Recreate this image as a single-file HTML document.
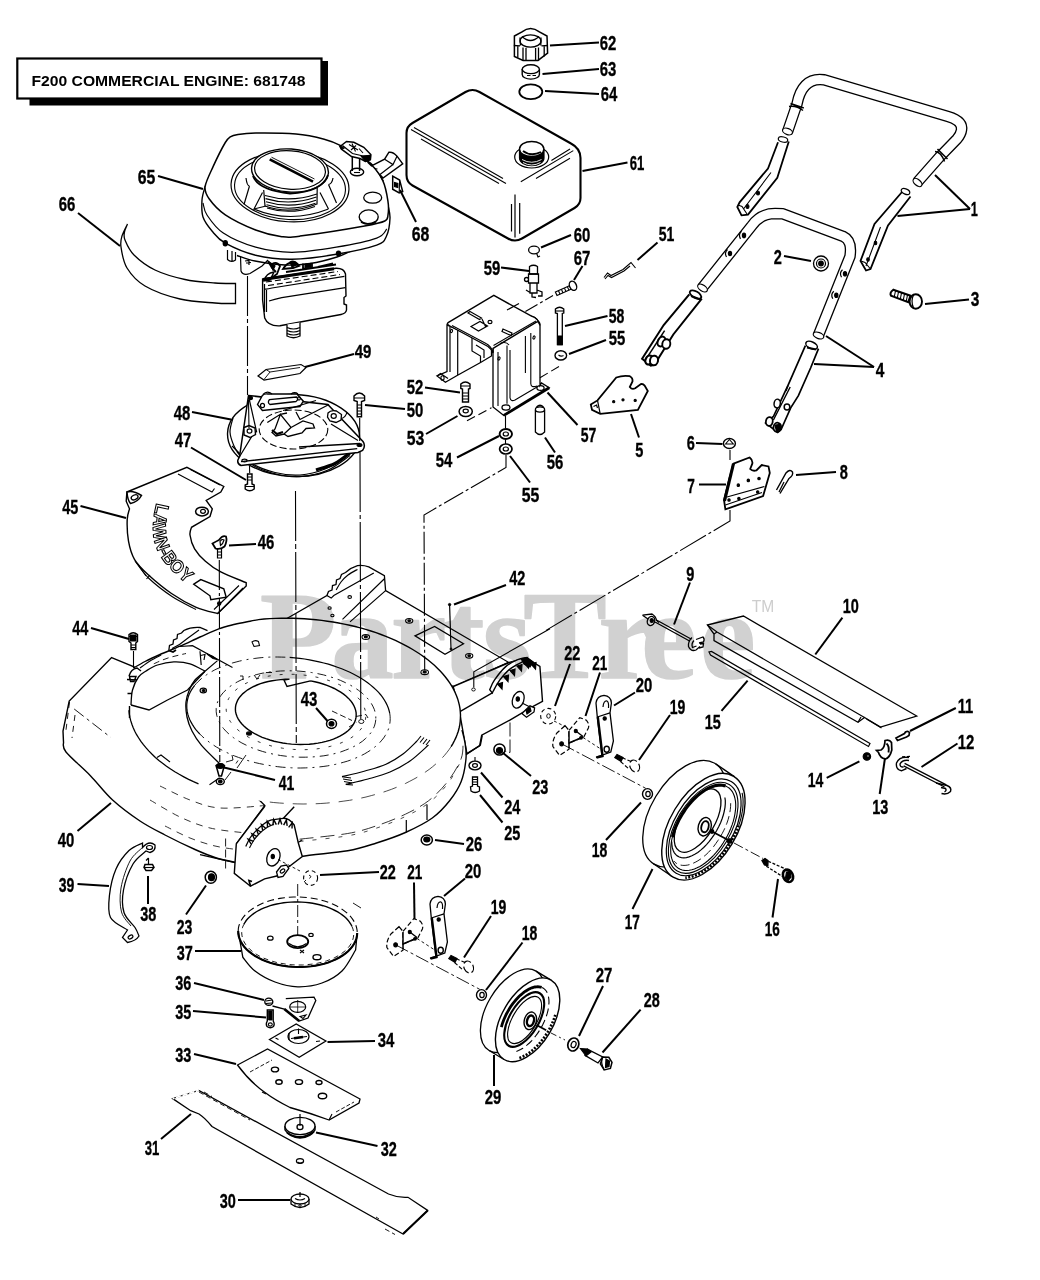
<!DOCTYPE html>
<html><head><meta charset="utf-8"><title>F200 Commercial Engine 681748 - Parts Diagram</title>
<style>html,body{margin:0;padding:0;background:#fff}svg{display:block}</style></head>
<body><svg width="1040" height="1280" viewBox="0 0 1040 1280">
<rect width="1040" height="1280" fill="#fff"/>
<rect x="29.5" y="61" width="298.5" height="44.5" fill="#000"/>
<rect x="17.3" y="58.5" width="304.2" height="40" fill="#fff" stroke="#000" stroke-width="2.2"/>
<text x="31.5" y="85.6" font-family="'Liberation Sans',sans-serif" font-weight="bold" font-size="15" textLength="274" lengthAdjust="spacingAndGlyphs">F200 COMMERCIAL ENGINE: 681748</text>
<g id="deck"><path d="M286,619 L326.9,595.6 L328.5,591.5 L332,590 L332.5,585.5 L336,584.5 L336.5,580 L340,578.5 L341.5,574.5 L345.5,572.5 Q351,567.5 357.5,565.6 Q363,564.8 368.8,566.9 L384.4,575.6 L385.6,590.6 L508.5,662.3 L454.2,686.5 L400,670 L330,650 L288,632 Z" fill="#fff" stroke="#000" stroke-width="1.3" />
<path d="M326.9,595.6 L331.2,598.1 L333.8,595.6 L373.8,573.1 M342.5,619.4 L384.4,578.8 M350,621.9 L385.6,590.6" fill="none" stroke="#000" stroke-width="1.2" />
<path d="M336.2,590 C337,588.7 339,584.5 341,582 C343,579.5 345.2,577.1 348,575 C350.8,572.9 355.9,570.3 357.5,569.4" fill="none" stroke="#000" stroke-width="1.2" />
<ellipse cx="349.7" cy="597" rx="1.8" ry="1.4" fill="none" stroke="#000" stroke-width="1.1" />
<ellipse cx="329.6" cy="608" rx="1.6" ry="1.3" fill="none" stroke="#000" stroke-width="1.1" />
<ellipse cx="332.4" cy="615.5" rx="1.6" ry="1.3" fill="none" stroke="#000" stroke-width="1.1" />
<path d="M453.2,686.5 L509.2,662.5 L526.2,658 L539.9,666.4 L542.5,701.3 L533.6,706.1 L510.3,719.9 L481.7,735.2 L479.6,745.8 L466.9,753.7 L465,743 L459.5,711.9 Z" fill="#fff" stroke="#000" stroke-width="1.4" />
<path d="M459.5,711.9 L492.3,692.9" fill="none" stroke="#000" stroke-width="1.3" />
<path d="M489.7,689.7 C490.5,688.1 491.7,684.1 494.4,680.2 C497.1,676.3 502.1,669.8 506,666.4 C509.9,663 514.3,661 517.7,659.6 C521.1,658.2 524.8,658.3 526.2,658 L521.9,662.2 521.9,662.2 C519.8,663.4 512.9,666.6 509.2,669.6 C505.5,672.6 502.3,676.7 499.7,680.2 C497.1,683.7 494.4,689 493.4,690.8 L492.3,692.9 Z" fill="#fff" stroke="#000" stroke-width="1.4" />
<path d="M497.5,684 l5,-1.5 l-0.5,6.5 Z" fill="#000" stroke="#000" stroke-width="1.2" />
<path d="M503.5,676.5 l5,-1.5 l-0.5,6.5 Z" fill="#000" stroke="#000" stroke-width="1.2" />
<path d="M510,670.5 l5,-1.5 l-0.5,6.5 Z" fill="#000" stroke="#000" stroke-width="1.2" />
<path d="M517,666 l5,-1.5 l-0.5,6.5 Z" fill="#000" stroke="#000" stroke-width="1.2" />
<path d="M524,663 l5,-1.5 l-0.5,6.5 Z" fill="#000" stroke="#000" stroke-width="1.2" />
<path d="M531,664 l5,-1.5 l-0.5,6.5 Z" fill="#000" stroke="#000" stroke-width="1.2" />
<path d="M521,658.5 L527,657.5 L533,662 L530,667 L524,664Z" fill="#000" stroke="#000" stroke-width="1.2" />
<ellipse cx="518.2" cy="699.8" rx="5.6" ry="8.6" fill="#fff" stroke="#000" stroke-width="1.3" transform="rotate(20 518.2 699.8)" />
<ellipse cx="517.8" cy="699" rx="1.6" ry="2.2" fill="#000" stroke="#000" stroke-width="1.2" />
<path d="M521.9,713.5 L530,705.8 L534.6,708 L534,712 L526.5,717.2 Z" fill="#fff" stroke="#000" stroke-width="1.3" />
<path d="M526,710 L530,707.5 L531,711 L527,714Z" fill="#000" stroke="#000" stroke-width="1.2" />
<path d="M522,703 L529,706.5" fill="none" stroke="#000" stroke-width="1.1" />
<path d="M550,628.8 L473.8,671.7 L473.8,687.6" fill="none" stroke="#000" stroke-width="1.1" />
<ellipse cx="473.5" cy="689.5" rx="1.8" ry="1.5" fill="none" stroke="#000" stroke-width="0.9" />
<path d="M415,635.8 L434.6,626.5 L463.5,643.8 L445,654.2 Z" fill="none" stroke="#000" stroke-width="1.3" />
<ellipse cx="409.2" cy="620.8" rx="3.6" ry="2.3" fill="none" stroke="#000" stroke-width="1.1" />
<ellipse cx="409.2" cy="620.8" rx="1.3" ry="0.9" fill="#000" stroke="#000" stroke-width="1.1" />
<ellipse cx="469.2" cy="655.8" rx="3.6" ry="2.3" fill="none" stroke="#000" stroke-width="1.1" />
<ellipse cx="469.2" cy="655.8" rx="1.3" ry="0.9" fill="#000" stroke="#000" stroke-width="1.1" />
<path d="M449.6,604.6 L451,648.5" fill="none" stroke="#000" stroke-width="1.2" />
<ellipse cx="449.6" cy="604.6" rx="1.2" ry="1.2" fill="#000" stroke="#000" stroke-width="0.9" />
<ellipse cx="451" cy="649" rx="1" ry="1" fill="#000" stroke="#000" stroke-width="0.9" />
<path d="M290,862.3 C291.9,861.3 291.9,858.4 301.5,856.5 C311.1,854.6 335.2,853 347.7,850.8 C360.2,848.5 366.9,846 376.5,843 C386.1,840 396.1,836.7 405.4,832.5 C414.7,828.3 424.9,823.3 432.3,818 C439.7,812.7 444.8,806.9 449.6,800.8 C454.4,794.7 458.5,788.5 461.2,781.5 C463.9,774.5 465.4,764.9 466,758.5 C466.6,752.1 465.7,747.8 465,743 C464.3,738.2 462.5,732.2 462,730 L459.5,726.4 L458.2,731.4 L456.4,736.4 L454.1,741.3 L451.4,746.1 L448.2,750.8 L444.5,755.4 L440.3,759.8 L435.7,764.1 L430.7,768.3 L425.2,772.2 L419.4,776 L413.1,779.6 L406.5,782.9 L399.6,786.1 L392.4,789 L384.8,791.7 L377,794.1 L368.9,796.3 L360.6,798.2 L352.1,799.8 L343.4,801.2 L334.6,802.3 L325.6,803.2 L316.5,803.7 L307.4,804 L298.3,803.9 L289.1,803.6 L280,803.1 L270.9,802.2 L261.8,801 L290,862Z" fill="#fff" stroke="none" stroke-width="0" />
<path d="M290,862.3 C291.9,861.3 291.9,858.4 301.5,856.5 C311.1,854.6 335.2,853 347.7,850.8 C360.2,848.5 366.9,846 376.5,843 C386.1,840 396.1,836.7 405.4,832.5 C414.7,828.3 424.9,823.3 432.3,818 C439.7,812.7 444.8,806.9 449.6,800.8 C454.4,794.7 458.5,788.5 461.2,781.5 C463.9,774.5 465.4,764.9 466,758.5 C466.6,752.1 465.7,747.8 465,743 C464.3,738.2 462.5,732.2 462,730" fill="none" stroke="#000" stroke-width="1.4" />
<path d="M299.6,839.2 C307.6,838.2 334.9,835.7 347.7,833.5 C360.5,831.3 366.9,829 376.5,825.8 C386.1,822.6 396.7,818.4 405.4,814.2 C414.1,810 421.4,806.2 428.5,800.8 C435.6,795.3 442.2,788.5 447.7,781.5 C453.1,774.5 458.6,765.5 461.2,758.5 C463.8,751.5 462.7,742.4 463,739.2" fill="none" stroke="#000" stroke-width="0.8" stroke-dasharray="14 7"/>
<path d="M299.6,841.5 C307.6,840.5 334.9,838 347.7,835.8 C360.5,833.6 366.9,831.3 376.5,828.1 C386.1,824.9 396.7,820.7 405.4,816.5 C414.1,812.3 421.4,808.5 428.5,803.1 C435.6,797.6 442.2,790.8 447.7,783.8 C453.1,776.8 458.9,764.6 461.2,760.8" fill="none" stroke="#000" stroke-width="0.7" stroke-dasharray="4 9"/>
<path d="M406.3,820 L406.3,832.5 M427,804.6 L427,820" fill="none" stroke="#000" stroke-width="1.2" />
<path d="M466,754.6 L480.4,745 L482.3,735.4" fill="none" stroke="#000" stroke-width="1.3" />
<path d="M111.6,657.6 L134,666.8 L160,700 L264.8,805.6 L237,843 L236,862.5 236,862.5 C232.5,861.7 221.8,859.7 215,857.5 C208.2,855.3 203.3,853.2 195,849.5 C186.7,845.8 174.2,839.8 165,835 C155.8,830.2 148.7,826.8 140,821 C131.3,815.2 120.9,807.5 112.6,800 C104.3,792.5 98.2,783.7 90.4,775.7 C82.6,767.7 70.5,757.6 66,752 C61.5,746.4 63.9,743.7 63.5,742 L63,731 L69.2,701 Z" fill="#fff" stroke="#000" stroke-width="1.4" />
<path d="M74.2,709 L110.6,737.3" fill="none" stroke="#000" stroke-width="0.9" stroke-dasharray="12 4 3 4"/>
<path d="M69.5,702 L66,730 M75,715 L72,738" fill="none" stroke="#000" stroke-width="0.9" stroke-dasharray="6 5"/>
<path d="M133.5,668 C135.4,666.9 140.6,663.8 145,661.5 C149.4,659.2 154.2,657 160,654.5 C165.8,652 173.3,649.1 180,646.2 C186.7,643.3 193.5,639.9 200,637 C206.5,634.1 213,630.9 218.8,628.8 C224.6,626.7 229.8,625.6 235,624.3 C240.2,623 246.1,622 250,621.2 C253.9,620.4 257,619.9 258.4,619.6 L258.4,619.5 L267.9,618.7 L277.4,618.3 L287.1,618.2 L296.7,618.4 L306.4,618.9 L316,619.8 L325.5,620.9 L334.9,622.3 L344.2,624.1 L353.3,626.1 L362.2,628.4 L370.9,631 L379.4,633.9 L387.5,637 L395.4,640.4 L402.8,644.1 L410,647.9 L416.7,652 L423,656.2 L428.9,660.7 L434.4,665.3 L439.3,670.1 L443.8,675 L447.7,680 L451.2,685.2 L454.1,690.4 L456.5,695.7 L458.3,701.1 L459.6,706.5 L460.3,711.9 L460.5,717.3 L460.1,722.6 L459.1,728 L457.6,733.3 L455.5,738.5 L452.9,743.6 L449.8,748.6 L446.1,753.5 L441.9,758.2 L437.2,762.8 L432,767.2 L426.4,771.4 L420.3,775.4 L413.8,779.2 L406.9,782.7 L399.6,786.1 L392,789.1 L384,791.9 L375.7,794.5 L367.2,796.7 L358.4,798.7 L349.3,800.3 L340.1,801.7 L330.8,802.7 L321.3,803.5 L311.8,803.9 L302.1,804 L292.5,803.8 L282.8,803.3 L273.2,802.4 L263.7,801.3 L254.3,799.9 L245,798.1 L235.9,796.1 L227,793.8 L218.3,791.2 L209.8,788.3 L201.7,785.2 L193.8,781.8 L186.4,778.1 L179.2,774.3 L172.5,770.2 L166.2,766 L160.3,761.5 L154.8,756.9 L149.9,752.1 L145.4,747.2 L141.5,742.2 L138,737 L135.1,731.8 L132.7,726.5 L130.9,721.1 L129.6,715.7 L128.9,710.3 L128.7,704.9 L129.1,699.6 L130.1,694.2 L131.6,688.9 L133.7,683.7 L136.3,678.6Z" fill="#fff" stroke="none" stroke-width="0" />
<path d="M133.5,668 C135.4,666.9 140.6,663.8 145,661.5 C149.4,659.2 154.2,657 160,654.5 C165.8,652 173.3,649.1 180,646.2 C186.7,643.3 193.5,639.9 200,637 C206.5,634.1 213,630.9 218.8,628.8 C224.6,626.7 229.8,625.6 235,624.3 C240.2,623 246.1,622 250,621.2 C253.9,620.4 257,619.9 258.4,619.6 L264.1,619 L269.8,618.6 L275.5,618.4 L281.3,618.2 L287.1,618.2 L292.9,618.3 L298.6,618.5 L304.4,618.8 L310.2,619.2 L316,619.8 L321.7,620.4 L327.4,621.2 L333,622 L338.6,623 L344.2,624.1 L349.7,625.3 L355.1,626.5 L360.5,627.9 L365.7,629.4 L370.9,631 L376,632.7 L381,634.5 L385.9,636.4 L390.7,638.4 L395.4,640.4 L399.9,642.6 L404.3,644.8 L408.6,647.1 L412.7,649.5 L416.7,652 L420.6,654.5 L424.2,657.1 L427.8,659.8 L431.1,662.5 L434.4,665.3 L437.4,668.2 L440.2,671.1 L442.9,674 L445.4,677 L447.7,680 L449.9,683.1 L451.8,686.2 L453.6,689.4 L455.1,692.5 L456.5,695.7 L457.7,698.9 L458.6,702.1 L459.4,705.4 L460,708.6 L460.3,711.9 L460.5,715.1 L460.4,718.3 L460.2,721.6 L459.8,724.8 L459.1,728 L458.3,731.2 L457.2,734.3 L456,737.4 L454.5,740.5 L452.9,743.6 L451.1,746.6" fill="none" stroke="#000" stroke-width="1.4" />
<path d="M451.1,746.6 L449,749.7 L446.7,752.7 L444.3,755.6 L441.6,758.5 L438.8,761.3 L435.7,764.1 L432.5,766.8 L429.2,769.4 L425.6,771.9 L421.9,774.4 L418,776.8 L413.9,779.1 L409.7,781.3 L405.4,783.5 L400.9,785.5 L396.3,787.4 L391.5,789.3 L386.7,791 L381.7,792.7 L376.5,794.2 L371.3,795.6 L366,797 L360.6,798.2 L355.1,799.3 L349.6,800.3 L343.9,801.1 L338.2,801.9 L332.5,802.5 L326.7,803.1 L320.8,803.5 L315,803.8 L309.1,803.9 L303.1,804 L297.2,803.9 L291.3,803.7 L285.3,803.4 L279.4,803 L273.5,802.5 L267.7,801.8 L261.8,801" fill="none" stroke="#000" stroke-width="0.7" stroke-dasharray="14 9"/>
<path d="M198.5,783.8 L193.5,781.6 L188.6,779.3 L183.8,776.8 L179.2,774.3 L174.8,771.7 L170.6,769 L166.5,766.2 L162.6,763.3 L158.9,760.4 L155.4,757.4 L152.1,754.3 L149,751.1 L146.1,747.9 L143.4,744.7 L140.9,741.4 L138.7,738 L136.6,734.7 L134.8,731.3 L133.2,727.8 L131.9,724.3 L130.8,720.9 L129.9,717.4 L129.3,713.8 L128.9,710.3" fill="none" stroke="#000" stroke-width="1.3" />
<path d="M160,786 C165,788.3 180,796.3 190,800 C200,803.7 207.5,807.1 220,808 C232.5,808.9 257.3,806 264.8,805.6" fill="none" stroke="#000" stroke-width="0.8" stroke-dasharray="7 6"/>
<path d="M150,800 C155,802.8 170,812.3 180,817 C190,821.7 199,825.3 210,828 C221,830.7 240,832.2 246,833" fill="none" stroke="#000" stroke-width="0.8" stroke-dasharray="7 6"/>
<path d="M165,826 C169.2,828 181.7,834.7 190,838 C198.3,841.3 206.7,844 215,846 C223.3,848 235.8,849.3 240,850" fill="none" stroke="#000" stroke-width="0.8" stroke-dasharray="7 6"/>
<path d="M131,705 C131.2,702.5 131.2,694.7 132.5,690 C133.8,685.3 136.2,680.2 138.5,677 C140.8,673.8 142.8,673 146,671 C149.2,669 152.9,666.5 157.5,665 C162.1,663.5 168.4,662.1 173.8,661.9 C179.2,661.7 184.8,662.2 190,663.8 C195.2,665.3 202.5,670 205,671.2" fill="none" stroke="#000" stroke-width="1.3" />
<path d="M131,705 L149,710 L167.5,700 L187.5,690 L205,671.2" fill="none" stroke="#000" stroke-width="1.3" />
<path d="M205,671.2 C203.3,672.7 197.6,676.9 195,680 C192.4,683.1 190.8,686.3 189.3,690 C187.8,693.7 186.4,697.5 186,702 C185.6,706.5 186,712.2 187,717 C188,721.8 189.6,726.3 192,731 C194.4,735.7 196.9,740 201.5,745.4 C206.1,750.8 216.6,760.6 219.6,763.6" fill="none" stroke="#000" stroke-width="1.3" />
<path d="M209.5,784.8 L219.6,777.7 M157,757.5 L161,755 L170,762" fill="none" stroke="#000" stroke-width="1.1" />
<path d="M140,668 C141.7,666.8 146.5,663.2 150,661 C153.5,658.8 159.3,656 161.2,655" fill="none" stroke="#000" stroke-width="1.1" />
<path d="M153.8,663.8 C156.2,662.8 162.6,659.7 168,658 C173.4,656.3 183,654.2 186,653.5" fill="none" stroke="#000" stroke-width="0.9" stroke-dasharray="6 4"/>
<path d="M180,646.5 L192.5,645.6 L232.5,667.5 M217.5,660.6 L205,671.2 M200,651.2 L201.2,665 M200.5,655.5 L205,654.5 L204,660" fill="none" stroke="#000" stroke-width="1.2" />
<path d="M207,654 L212.5,656.2 L217,659.5 L213,658.5Z" fill="#000" stroke="#000" stroke-width="1.2" />
<path d="M168.8,650.5 L169.5,645.5 L173,644 L173.5,640 L177,638.5 L177.5,634.5 L181.5,633 L183.8,630.5 Q191,626.8 200,627.5 L207.5,630.6" fill="none" stroke="#000" stroke-width="1.3" />
<path d="M172,648.5 Q180,645 188,638 L199,630" fill="none" stroke="#000" stroke-width="1.1" />
<path d="M168.8,650.5 L173,652 L176,650" fill="none" stroke="#000" stroke-width="1.7" />
<path d="M199.8,734 L197.6,731.7 L195.6,729.3 L193.9,726.9 L192.3,724.4 L190.9,721.9 L189.7,719.4 L188.7,716.9 L187.9,714.4 L187.3,711.9 L186.9,709.4 L186.8,706.9 L186.8,704.4 L187.1,701.9 L187.6,699.4 L188.2,697 L189.1,694.6 L190.2,692.2 L191.5,689.9 L193,687.6 L194.7,685.4" fill="none" stroke="#000" stroke-width="1.2" />
<path d="M289.7,657.4 L294.7,657.8 L299.7,658.4 L304.6,659 L309.5,659.8 L314.3,660.8 L319.1,661.8 L323.8,663 L328.4,664.2 L332.9,665.6 L337.4,667.2 L341.7,668.8 L345.8,670.5 L349.9,672.3 L353.8,674.2 L357.5,676.2 L361.1,678.3 L364.5,680.5 L367.7,682.8 L370.7,685.1 L373.5,687.5 L376.1,689.9 L378.6,692.4 L380.8,695 L382.8,697.6 L384.5,700.2 L386,702.9 L387.3,705.6 L388.4,708.3 L389.2,711 L389.8,713.7" fill="none" stroke="#000" stroke-width="1.2" />
<path d="M389.8,713.7 L390.1,716.2 L390.2,718.7 L390.1,721.2 L389.8,723.7 L389.3,726.1 L388.6,728.6 L387.7,731 L386.5,733.3 L385.2,735.6 L383.7,737.9 L381.9,740.1 L380,742.3 L377.9,744.4 L375.6,746.4 L373.1,748.3 L370.5,750.2 L367.7,752 L364.7,753.8 L361.6,755.4 L358.3,757 L354.8,758.4 L351.3,759.8 L347.6,761.1 L343.8,762.2 L339.8,763.3 L335.8,764.3 L331.7,765.1 L327.4,765.9 L323.1,766.5 L318.7,767 L314.3,767.4 L309.8,767.7 L305.3,767.9 L300.7,768 L296.1,768 L291.5,767.8 L286.9,767.5 L282.3,767.2 L277.7,766.7 L273.1,766.1 L268.6,765.3 L264.1,764.5 L259.6,763.6 L255.2,762.6 L250.9,761.4 L246.6,760.2 L242.5,758.8 L238.4,757.4 L234.4,755.9 L230.6,754.3 L226.9,752.6 L223.2,750.8 L219.8,748.9 L216.4,747 L213.3,745 L210.2,742.9 L207.4,740.7 L204.7,738.5 L202.1,736.3 L199.8,734" fill="none" stroke="#000" stroke-width="0.9" stroke-dasharray="10 5 2 5"/>
<path d="M194.7,685.4 L196.3,683.5 L198.1,681.7 L200,679.9 L202,678.1 L204.2,676.4 L206.5,674.8 L209,673.2 L211.5,671.7 L214.2,670.2 L217,668.8 L220,667.5 L223,666.3 L226.1,665.1 L229.3,664 L232.7,662.9 L236.1,662 L239.5,661.1 L243.1,660.3 L246.7,659.6 L250.4,659 L254.2,658.5 L258,658 L261.9,657.6 L265.8,657.3 L269.7,657.1 L273.7,657 L277.7,657 L281.7,657.1 L285.7,657.2 L289.7,657.4" fill="none" stroke="#000" stroke-width="0.9" stroke-dasharray="10 5 2 5"/>
<path d="M375.8,719.6 L375.3,722.9 L374.4,726.2 L372.9,729.4 L371,732.6 L368.6,735.6 L365.7,738.4 L362.5,741.2 L358.8,743.7 L354.7,746.1 L350.3,748.3 L345.5,750.2 L340.5,752 L335.1,753.5 L329.6,754.8 L323.8,755.8 L317.8,756.5 L311.7,757 L305.5,757.2 L299.3,757.2 L293,756.9 L286.7,756.3 L280.6,755.5 L274.5,754.4 L268.5,753.1 L262.7,751.5 L257.1,749.7 L251.7,747.7 L246.7,745.4 L241.9,743 L237.4,740.4 L233.4,737.6 L229.7,734.7 L226.4,731.7 L223.5,728.5 L221.1,725.3 L219.2,721.9 L217.7,718.6 L216.7,715.2 L216.2,711.8 L216.2,708.4 L216.7,705.1 L217.6,701.8 L219.1,698.6 L221,695.4 L223.4,692.4 L226.3,689.6 L229.5,686.8 L233.2,684.3 L237.3,681.9 L241.7,679.7 L246.5,677.8 L251.5,676 L256.9,674.5 L262.4,673.2 L268.2,672.2 L274.2,671.5 L280.3,671 L286.5,670.8 L292.7,670.8 L299,671.1 L305.3,671.7 L311.4,672.5 L317.5,673.6 L323.5,674.9 L329.3,676.5 L334.9,678.3 L340.3,680.3 L345.3,682.6 L350.1,685 L354.6,687.6 L358.6,690.4 L362.3,693.3 L365.6,696.3 L368.5,699.5 L370.9,702.7 L372.8,706.1 L374.3,709.4 L375.3,712.8 L375.8,716.2 L375.8,719.6Z" fill="none" stroke="#000" stroke-width="0.9" stroke-dasharray="9 5 2 5"/>
<path d="M365.8,716.9 L365.4,719.8 L364.6,722.7 L363.3,725.5 L361.6,728.2 L359.5,730.8 L357,733.3 L354.2,735.7 L351,737.9 L347.4,740 L343.5,741.9 L339.4,743.6 L334.9,745.1 L330.3,746.4 L325.4,747.5 L320.3,748.4 L315.1,749.1 L309.8,749.5 L304.3,749.7 L298.9,749.7 L293.4,749.4 L287.9,748.9 L282.5,748.2 L277.2,747.2 L271.9,746.1 L266.9,744.7 L262,743.1 L257.3,741.3 L252.8,739.4 L248.7,737.3 L244.8,735 L241.2,732.6 L238,730 L235.1,727.4 L232.6,724.6 L230.5,721.8 L228.8,718.9 L227.5,716 L226.6,713 L226.2,710.1 L226.2,707.1 L226.6,704.2 L227.4,701.3 L228.7,698.5 L230.4,695.8 L232.5,693.2 L235,690.7 L237.8,688.3 L241,686.1 L244.6,684 L248.5,682.1 L252.6,680.4 L257.1,678.9 L261.7,677.6 L266.6,676.5 L271.7,675.6 L276.9,674.9 L282.2,674.5 L287.7,674.3 L293.1,674.3 L298.6,674.6 L304.1,675.1 L309.5,675.8 L314.8,676.8 L320.1,677.9 L325.1,679.3 L330,680.9 L334.7,682.7 L339.2,684.6 L343.3,686.7 L347.2,689 L350.8,691.4 L354,694 L356.9,696.6 L359.4,699.4 L361.5,702.2 L363.2,705.1 L364.5,708 L365.4,711 L365.8,713.9 L365.8,716.9Z" fill="none" stroke="#000" stroke-width="0.8" stroke-dasharray="3 9"/>
<path d="M310.5,680.9 L314.8,681.8 L319,682.8 L323,684 L327,685.4 L330.7,686.9 L334.3,688.5 L337.6,690.3 L340.7,692.2 L343.6,694.1 L346.2,696.2 L348.5,698.4 L350.6,700.7 L352.3,703 L353.7,705.3 L354.8,707.7 L355.6,710.1 L356.1,712.5 L356.2,715 L356,717.4 L355.5,719.7 L354.6,722.1 L353.4,724.3 L351.9,726.5 L350.1,728.7 L348,730.7 L345.6,732.6 L342.9,734.4 L339.9,736.1 L336.8,737.7 L333.4,739.1 L329.8,740.3 L326,741.4 L322,742.4 L317.9,743.1 L313.7,743.7 L309.3,744.2 L304.9,744.4 L300.5,744.5 L296,744.4 L291.5,744.1 L287.1,743.6 L282.7,743 L278.3,742.1 L274.1,741.2 L270,740 L266,738.7 L262.2,737.3 L258.6,735.7 L255.2,734 L252,732.1 L249,730.2 L246.3,728.1 L243.9,726 L241.7,723.7 L239.9,721.5 L238.3,719.1 L237.1,716.7 L236.2,714.3 L235.6,711.9 L235.4,709.5 L235.5,707.1 L235.9,704.7 L236.7,702.4 L237.7,700.1 L239.1,697.8 L240.9,695.7 L242.9,693.6 L245.2,691.7 L247.7,689.8 L250.6,688.1 L253.7,686.5 L257,685 L260.5,683.7 L264.3,682.5 L268.2,681.5 L272.2,680.7 L276.4,680.1 L280.7,679.6 L285.1,679.3 L289.5,679.1 L284,680 L287,686.5 L310.5,680.9" fill="#fff" stroke="#000" stroke-width="1.4" />
<path d="M240,676 L243,676 L243,680 M254,675 L257,679 M260,675 L257,679 M266,672.5 L272,672.5" fill="none" stroke="#000" stroke-width="0.9" />
<path d="M332,711 L352,720.5 M356,716.5 L366,714.5 L368,718 M349,727 L357,722" fill="none" stroke="#000" stroke-width="0.9" stroke-dasharray="6 3"/>
<ellipse cx="361.3" cy="721.5" rx="2.6" ry="2" fill="none" stroke="#000" stroke-width="0.9" />
<ellipse cx="331.5" cy="723.8" rx="5" ry="4.6" fill="#fff" stroke="#000" stroke-width="1.5" />
<ellipse cx="331.5" cy="723.8" rx="2.4" ry="2.2" fill="#000" stroke="#000" stroke-width="1.2" />
<ellipse cx="365.8" cy="637" rx="3.8" ry="2.4" fill="none" stroke="#000" stroke-width="1.1" />
<ellipse cx="365.8" cy="636.7" rx="1.6" ry="1" fill="#000" stroke="#000" stroke-width="1.1" />
<ellipse cx="424.7" cy="672.2" rx="3.8" ry="2.4" fill="none" stroke="#000" stroke-width="1.1" />
<ellipse cx="424.7" cy="671.9" rx="1.6" ry="1" fill="#000" stroke="#000" stroke-width="1.1" />
<ellipse cx="203.3" cy="690.5" rx="3.2" ry="2.4" fill="none" stroke="#000" stroke-width="1.2" />
<ellipse cx="203.6" cy="690.5" rx="1.4" ry="1" fill="#000" stroke="#000" stroke-width="1.1" />
<ellipse cx="249" cy="733.5" rx="2.4" ry="1.6" fill="#000" stroke="#000" stroke-width="1.2" />
<path d="M252,642 Q255,639.5 258.5,641.5 L259.5,645.5 L254,646.5 Z" fill="none" stroke="#000" stroke-width="1.1" />
<path d="M342,776.7 C345.8,775.8 357.7,773.1 365,771 C372.3,768.9 379.7,767 386,764.2 C392.3,761.4 397.8,757.9 403,754 C408.2,750.1 414.7,743.2 417,741" fill="none" stroke="#000" stroke-width="1.2" />
<path d="M345.8,784.4 C349.5,783.5 360.6,781.1 368,779 C375.4,776.9 383,775 390,772 C397,769 403.6,765.5 410,761 C416.4,756.5 425.4,747.7 428.5,745" fill="none" stroke="#000" stroke-width="1.2" />
<path d="M342,776.7 L351,778 M343,779 L352,780.5 M344,781.5 L352,783 M345.8,784.4 L353,785 M417,741 L421,736 M420,742.5 L424,737.5 M423,744 L427,739 M426,745 L430,740" fill="none" stroke="#000" stroke-width="1.1" />
<path d="M216,765.5 Q220.3,762 224.5,765.5 L223,770.5 L221.5,776 L219,776 L217.5,770.5Z" fill="#fff" stroke="#000" stroke-width="1.5" />
<ellipse cx="220.3" cy="766" rx="3.6" ry="2.4" fill="#000" stroke="#000" stroke-width="1.2" />
<ellipse cx="220.3" cy="781.5" rx="4" ry="3" fill="#fff" stroke="#000" stroke-width="1.4" />
<ellipse cx="220.3" cy="781.5" rx="1.8" ry="1.4" fill="#000" stroke="#000" stroke-width="1.2" />
<path d="M226,762 L233,760 L232,755 M238,760.5 L236,763.5 M231,772 L225,780 M246,755 L237,768" fill="none" stroke="#000" stroke-width="0.9" />
<path d="M129,676 Q131,669 137,668 L141,671 M127,679.5 L137,680 M129.5,676.5 L136,676.5 L134,681.5 L130.5,681.5Z" fill="none" stroke="#000" stroke-width="1.4" />
<path d="M133.5,651 L133.5,668" fill="none" stroke="#000" stroke-width="0.9" />
<path d="M127.5,693.5 L132,693.5 M129.5,706 L129.5,718" fill="none" stroke="#000" stroke-width="1.4" />
<path d="M265,806 L236.3,843.8 L234.3,873.4 L250.5,886.2 L264.6,878.8 L276.7,876 L302.3,856.6 L298.2,842.5 L294.2,825 Q289,818 283.4,818.3 L294.2,806.8" fill="#fff" stroke="#000" stroke-width="1.4" />
<path d="M250.5,886.2 L249,880.5 L252,881.5" fill="none" stroke="#000" stroke-width="1.7" />
<path d="M245.8,846.5 C246.5,845.1 248.2,840.7 250,838 C251.8,835.3 254.3,832.6 256.5,830.4 C258.7,828.1 260.8,826.2 263,824.5 C265.2,822.8 266.6,821.3 270,820.3 C273.4,819.3 281.2,818.6 283.4,818.3" fill="none" stroke="#000" stroke-width="1.3" />
<path d="M249.5,848 C250.2,846.7 252.2,842.5 254,840 C255.8,837.5 257.8,835.1 260,833 C262.2,830.9 264.7,829 267,827.5 C269.3,826 272.8,824.6 274,824" fill="none" stroke="#000" stroke-width="1.1" />
<path d="M-1.8,0.5 L0,-5 L1.8,0.5" transform="translate(252 842.5) rotate(-50)" fill="none" stroke="#000" stroke-width="1.4"/>
<path d="M-1.8,0.5 L0,-5 L1.8,0.5" transform="translate(255.5 837.5) rotate(-45)" fill="none" stroke="#000" stroke-width="1.4"/>
<path d="M-1.8,0.5 L0,-5 L1.8,0.5" transform="translate(259.5 833) rotate(-40)" fill="none" stroke="#000" stroke-width="1.4"/>
<path d="M-1.8,0.5 L0,-5 L1.8,0.5" transform="translate(264 829) rotate(-30)" fill="none" stroke="#000" stroke-width="1.4"/>
<path d="M-1.8,0.5 L0,-5 L1.8,0.5" transform="translate(269 826) rotate(-20)" fill="none" stroke="#000" stroke-width="1.4"/>
<path d="M-1.8,0.5 L0,-5 L1.8,0.5" transform="translate(274.5 824.5) rotate(-10)" fill="none" stroke="#000" stroke-width="1.4"/>
<path d="M-1.8,0.5 L0,-5 L1.8,0.5" transform="translate(280 824) rotate(0)" fill="none" stroke="#000" stroke-width="1.4"/>
<path d="M-1.8,0.5 L0,-5 L1.8,0.5" transform="translate(285.5 825) rotate(10)" fill="none" stroke="#000" stroke-width="1.4"/>
<path d="M-1.8,0.5 L0,-5 L1.8,0.5" transform="translate(290.5 827.5) rotate(20)" fill="none" stroke="#000" stroke-width="1.4"/>
<ellipse cx="273.4" cy="857.3" rx="6.3" ry="9" fill="#fff" stroke="#000" stroke-width="1.3" transform="rotate(22 273.4 857.3)" />
<ellipse cx="272.8" cy="856.5" rx="1.6" ry="2.2" fill="#000" stroke="#000" stroke-width="1.2" />
<path d="M276.5,872 L281,866 L286.5,865 L288.8,868.5 L283,876.5 L278,877.5Z" fill="#fff" stroke="#000" stroke-width="1.3" />
<ellipse cx="282.5" cy="871" rx="2.6" ry="1.6" fill="none" stroke="#000" stroke-width="1.1" transform="rotate(-40 282.5 871)" />
<path d="M278,859.5 L300,871" fill="none" stroke="#000" stroke-width="0.9" stroke-dasharray="3 2.5"/>
<path d="M200,854.6 L235,862.7" fill="none" stroke="#000" stroke-width="1.3" />
<path d="M225.6,838.5 L225.6,871" fill="none" stroke="#000" stroke-width="0.9" stroke-dasharray="8 3"/>
<path d="M298.2,842.5 L302.3,839.8" fill="none" stroke="#000" stroke-width="1.2" />
<ellipse cx="210.8" cy="877.2" rx="5.6" ry="6" fill="#fff" stroke="#000" stroke-width="1.5" />
<ellipse cx="211.5" cy="877.2" rx="3" ry="3.4" fill="#000" stroke="#000" stroke-width="1.2" />
<ellipse cx="310.6" cy="878" rx="7" ry="7.4" fill="none" stroke="#000" stroke-width="1.1" stroke-dasharray="4 3"/>
<path d="M309,875 l2,1.5 l-1.5,2" fill="none" stroke="#000" stroke-width="0.9" />
<ellipse cx="499.5" cy="749.5" rx="5.6" ry="5.6" fill="#fff" stroke="#000" stroke-width="1.5" />
<ellipse cx="499.5" cy="750.5" rx="3" ry="3" fill="#000" stroke="#000" stroke-width="1.2" />
<path d="M510,722.5 L510,752.5 L505,751" fill="none" stroke="#000" stroke-width="0.9" stroke-dasharray="14 3"/>
<ellipse cx="475" cy="765.5" rx="6" ry="4.4" fill="#fff" stroke="#000" stroke-width="1.4" />
<ellipse cx="475" cy="765.5" rx="2.4" ry="1.8" fill="none" stroke="#000" stroke-width="1.2" />
<path d="M475,757 L475,761" fill="none" stroke="#000" stroke-width="1.1" />
<path d="M472.5,777 L472.5,786 L470.5,787 L471,791 Q475,794 479.5,791 L479.5,787 L477.5,786 L477.5,777Z" fill="#fff" stroke="#000" stroke-width="1.3" />
<path d="M472.5,779.5 L477.5,779.5 M472.5,782 L477.5,782 M472.5,784.5 L477.5,784.5" fill="none" stroke="#000" stroke-width="1.1" />
<ellipse cx="426.8" cy="840" rx="5.6" ry="5" fill="#fff" stroke="#000" stroke-width="1.5" />
<ellipse cx="426.8" cy="839.5" rx="3" ry="2.4" fill="#000" stroke="#000" stroke-width="1.2" /></g>
<g id="blade"><path d="M357.2,933 L357,935.8 L356.4,938.5 L355.4,941.2 L354.1,943.8 L352.4,946.4 L350.4,948.8 L348.1,951.2 L345.5,953.4 L342.5,955.5 L339.3,957.5 L335.9,959.3 L332.2,960.9 L328.3,962.4 L324.2,963.7 L319.9,964.7 L315.5,965.6 L311,966.3 L306.4,966.7 L301.8,967 L297.1,967 L292.4,966.8 L287.8,966.4 L283.2,965.8 L278.7,965 L274.4,963.9 L270.1,962.7 L266.1,961.3 L262.2,959.7 L258.6,957.9 L255.2,956 L252.1,953.9 L249.2,951.7 L246.7,949.4 L244.4,947 L242.5,944.4 L240.9,941.8 L239.7,939.2 L238.8,936.4 L238.3,933.7 L238.2,931 L242.8,957.2 242.8,957.2 C244.8,959.5 249.6,966.9 255,971 C260.4,975.1 267.9,979.4 275,982 C282.1,984.6 289.9,986.6 297.7,986.8 C305.5,987 314.6,985.6 322,983 C329.4,980.4 336.4,976.5 342,971 C347.6,965.5 353.3,953.5 355.6,950 Z" fill="#fff" stroke="#000" stroke-width="1.3" />
<path d="M357.2,933 L357,935.8 L356.4,938.5 L355.4,941.2 L354.1,943.8 L352.4,946.4 L350.4,948.8 L348.1,951.2 L345.5,953.4 L342.5,955.5 L339.3,957.5 L335.9,959.3 L332.2,960.9 L328.3,962.4 L324.2,963.7 L319.9,964.7 L315.5,965.6 L311,966.3 L306.4,966.7 L301.8,967 L297.1,967 L292.4,966.8 L287.8,966.4 L283.2,965.8 L278.7,965 L274.4,963.9 L270.1,962.7 L266.1,961.3 L262.2,959.7 L258.6,957.9 L255.2,956 L252.1,953.9 L249.2,951.7 L246.7,949.4 L244.4,947 L242.5,944.4 L240.9,941.8 L239.7,939.2 L238.8,936.4 L238.3,933.7 L238.2,931" fill="none" stroke="#000" stroke-width="2.1" />
<path d="M238.2,931 L238.4,928.2 L239,925.5 L240,922.8 L241.3,920.2 L243,917.6 L245,915.2 L247.3,912.8 L249.9,910.6 L252.9,908.5 L256.1,906.5 L259.5,904.7 L263.2,903.1 L267.1,901.6 L271.2,900.3 L275.5,899.3 L279.9,898.4 L284.4,897.7 L289,897.3 L293.6,897 L298.3,897 L303,897.2 L307.6,897.6 L312.2,898.2 L316.7,899 L321,900.1 L325.3,901.3 L329.3,902.7 L333.2,904.3 L336.8,906.1 L340.2,908 L343.3,910.1 L346.2,912.3 L348.7,914.6 L351,917 L352.9,919.6 L354.5,922.2 L355.7,924.8 L356.6,927.6 L357.1,930.3 L357.2,933" fill="none" stroke="#000" stroke-width="1.1" stroke-dasharray="7 4"/>
<path d="M243.8,924.4 L244.9,922.5 L246.2,920.5 L247.7,918.7 L249.5,916.9 L251.5,915.2 L253.6,913.6 L256,912 L258.5,910.5 L261.2,909.2 L264.1,907.9 L267,906.8 L270.2,905.7 L273.4,904.8 L276.8,904 L280.2,903.4 L283.7,902.8 L287.3,902.4 L290.9,902.1 L294.6,902 L298.2,902 L301.9,902.1 L305.6,902.4 L309.2,902.8 L312.7,903.3 L316.2,904 L319.6,904.8 L323,905.7 L326.2,906.7 L329.3,907.9 L332.2,909.1 L335,910.5 L337.7,911.9 L340.2,913.5 L342.5,915.1 L344.6,916.8 L346.5,918.6 L348.2,920.4 L349.6,922.4 L350.9,924.3 L351.9,926.3" fill="none" stroke="#000" stroke-width="1.4" />
<path d="M351.9,926.3 L353,929.1 L353.6,932 L353.7,934.9 L353.3,937.8 L352.5,940.6 L351.2,943.4 L349.5,946.1 L347.3,948.7 L344.8,951.1 L341.8,953.4 L338.4,955.6 L334.8,957.6 L330.8,959.3 L326.5,960.9 L322,962.2 L317.3,963.3 L312.4,964.1 L307.4,964.6 L302.3,965 L297.2,965 L292,964.8 L287,964.3 L282,963.5 L277.1,962.6 L272.4,961.3 L268,959.8 L263.8,958.2 L259.8,956.3 L256.2,954.2 L252.9,951.9 L250.1,949.5 L247.6,946.9 L245.5,944.3 L243.9,941.5 L242.7,938.7 L242,935.8 L241.7,932.9 L241.9,930.1 L242.6,927.2 L243.8,924.4" fill="none" stroke="#000" stroke-width="0.9" stroke-dasharray="5 4"/>
<ellipse cx="297.7" cy="941.6" rx="10.5" ry="6.5" fill="none" stroke="#000" stroke-width="1.9" />
<path d="M289,943.5 Q297.7,950 306.5,943.5" fill="none" stroke="#000" stroke-width="1.2" />
<ellipse cx="270.3" cy="938.2" rx="2.8" ry="2" fill="none" stroke="#000" stroke-width="1.2" />
<ellipse cx="317" cy="957.2" rx="4" ry="2.6" fill="none" stroke="#000" stroke-width="1.4" />
<ellipse cx="311" cy="934.9" rx="2.2" ry="1.6" fill="none" stroke="#000" stroke-width="1.2" />
<path d="M300,950 l4,3 m0,-3 l-4,3" fill="none" stroke="#000" stroke-width="1.1" />
<path d="M297.7,884 L297.7,936" fill="none" stroke="#000" stroke-width="0.9" stroke-dasharray="12 3 3 3"/>
<path d="M353,903 L361,908 M304,882 L306,880" fill="none" stroke="#000" stroke-width="0.9" />
<path d="M285.8,998.7 L314,997.2 L315.8,1000.5 L308,1018 L299.2,1021 L284.3,1009 L272.5,1006" fill="#fff" stroke="#000" stroke-width="1.3" />
<path d="M299.2,1021 L284.3,1009" fill="none" stroke="#000" stroke-width="2.6" />
<ellipse cx="297.7" cy="1006.9" rx="8" ry="5.5" fill="none" stroke="#000" stroke-width="1.2" />
<path d="M297.7,1000 L297.7,1013 M290,1007 L305,1007" fill="none" stroke="#000" stroke-width="0.8" />
<path d="M300,1016.5 l6,-1.5 l-3,3.5Z" fill="none" stroke="#000" stroke-width="1.1" />
<ellipse cx="268.8" cy="1001.7" rx="4" ry="3.6" fill="#fff" stroke="#000" stroke-width="1.4" />
<path d="M266,1001 L272,1000 M266,1003.5 L272,1003" fill="none" stroke="#000" stroke-width="1.1" />
<path d="M267.3,1010 L267.3,1021 Q265.5,1024 267,1026.5 Q270.3,1029 273.5,1026.5 Q275,1024 273.2,1021 L273.2,1010 Z" fill="#fff" stroke="#000" stroke-width="1.4" />
<path d="M268.6,1011 L268.6,1020 L272,1020 L272,1011Z" fill="#000" stroke="#000" stroke-width="0.9" />
<ellipse cx="270.3" cy="1024.5" rx="2" ry="1.6" fill="none" stroke="#000" stroke-width="1.1" />
<path d="M269.5,1039.5 L296.2,1024 L325.9,1041 L299.2,1057.3 Z" fill="#fff" stroke="#000" stroke-width="1.3" />
<ellipse cx="298.5" cy="1036.5" rx="10.5" ry="7" fill="none" stroke="#000" stroke-width="1.2" />
<path d="M289,1033 L289,1040 M291,1038.5 L307,1036.5" fill="none" stroke="#000" stroke-width="1.2" />
<path d="M294,1038.3 L303,1037" fill="none" stroke="#000" stroke-width="2.6" />
<path d="M298.5,1028.5 L298.5,1034 M275.5,1038 l3,1.5 M316,1041.5 l4,-0.5" fill="none" stroke="#000" stroke-width="1.1" />
<path d="M237.5,1065 L267.5,1049 L360,1099 L359,1103 L329,1120 Q310,1113 290,1107.5 Q275,1100 265,1092.5 Q250,1082 237.5,1065Z" fill="#fff" stroke="#000" stroke-width="1.3" />
<path d="M250,1072 L272,1060 M336,1112 L354,1102" fill="none" stroke="#000" stroke-width="0.9" stroke-dasharray="4 2"/>
<path d="M266,1094 L262,1092 M329,1120 L332,1114" fill="none" stroke="#000" stroke-width="1.1" />
<ellipse cx="275" cy="1069.5" rx="3.6" ry="2.4" fill="none" stroke="#000" stroke-width="1.4" />
<ellipse cx="279" cy="1082" rx="3.2" ry="2.2" fill="none" stroke="#000" stroke-width="1.4" />
<ellipse cx="299" cy="1082" rx="3.6" ry="2.4" fill="none" stroke="#000" stroke-width="1.4" />
<ellipse cx="319" cy="1082.5" rx="3" ry="2" fill="none" stroke="#000" stroke-width="1.4" />
<ellipse cx="322.5" cy="1096" rx="4.2" ry="2.8" fill="none" stroke="#000" stroke-width="1.4" />
<path d="M172.7,1098.6 L198.8,1090.4 L388.5,1194 Q398,1198 408,1197.3 L427.7,1210.4 L403,1234 L212,1126.5 Q204,1117 199,1114 L190.7,1110.7 Z" fill="#fff" stroke="#000" stroke-width="1.3" />
<path d="M172.7,1098.6 L198.8,1090.4" fill="none" stroke="#fff" stroke-width="1.9" />
<path d="M174,1098 L198.8,1090.4" fill="none" stroke="#000" stroke-width="0.9" stroke-dasharray="2 5"/>
<path d="M199,1092 L250,1120 M204,1092 L212,1096.5 M385,1229 L395,1234.5 M376,1217 L379,1219" fill="none" stroke="#000" stroke-width="0.9" stroke-dasharray="5 3"/>
<path d="M403,1234 L427.7,1210.4" fill="none" stroke="#000" stroke-width="2.1" />
<ellipse cx="300" cy="1161" rx="3.6" ry="2.4" fill="none" stroke="#000" stroke-width="1.2" />
<path d="M297.5,1162 Q300,1164.5 303,1162" fill="none" stroke="#000" stroke-width="1.2" />
<path d="M285,1126 L285,1130 Q290,1138 300,1138 Q311,1137.5 315,1130 L315,1126" fill="#fff" stroke="#000" stroke-width="1.4" />
<path d="M287,1132.5 Q300,1142 314,1131.5" fill="none" stroke="#000" stroke-width="2.1" />
<ellipse cx="300" cy="1126" rx="15" ry="8.6" fill="#fff" stroke="#000" stroke-width="1.4" />
<ellipse cx="300" cy="1127" rx="3" ry="2.6" fill="none" stroke="#000" stroke-width="1.3" />
<path d="M300,1114 L300,1126" fill="none" stroke="#000" stroke-width="1.2" />
<path d="M291,1199 L291,1204 Q300,1211 309,1204 L309,1199" fill="#fff" stroke="#000" stroke-width="1.3" />
<ellipse cx="300" cy="1199" rx="9" ry="5" fill="#fff" stroke="#000" stroke-width="1.3" />
<path d="M295,1198.5 Q300,1201.5 305,1198.5 M300,1192 L300,1197" fill="none" stroke="#000" stroke-width="1.2" />
<path d="M295,1206.5 L295,1203 M305,1206.5 L305,1203" fill="none" stroke="#000" stroke-width="0.9" />
<ellipse cx="300" cy="1205.5" rx="1.2" ry="0.8" fill="none" stroke="#000" stroke-width="0.9" />
<path d="M142.5,847.5 Q149,840 155,845 Q156,851 150,852.5 L146,851 146,851 C143.8,853.2 136.8,857.5 133,864 C129.2,870.5 125,881.9 123.5,890 C122,898.1 122.1,906.2 124,912.5 C125.9,918.8 132.5,923.6 135,927.5 C137.5,931.4 138.3,934.6 139,936 Q136,941 127.5,942.5 L122.5,937.5 L127.5,930 127.5,930 C124.7,927.9 113.5,923.3 110.5,917.5 C107.5,911.7 108.6,903.1 109.5,895 C110.4,886.9 112.8,876.4 116,869 C119.2,861.6 124.6,854.8 129,850.5 C133.4,846.2 140.2,844.2 142.5,843 Z" fill="#fff" stroke="#000" stroke-width="1.3" />
<path d="M142.5,847.5 C140.4,849.8 133.6,854.2 130,861 C126.4,867.8 122.4,879.5 121,888 C119.6,896.5 119.8,905.7 121.5,912 C123.2,918.3 129.4,923.7 131,926" fill="none" stroke="#000" stroke-width="0.9" />
<ellipse cx="149.5" cy="847.5" rx="3" ry="2" fill="none" stroke="#000" stroke-width="1.2" />
<ellipse cx="130.5" cy="937" rx="2.6" ry="1.6" fill="none" stroke="#000" stroke-width="1.2" transform="rotate(-30 130.5 937)" />
<path d="M148.5,858 L148.5,864 M146,860.5 L148.5,858" fill="none" stroke="#000" stroke-width="1.2" />
<path d="M145,864.5 L152.5,864.5 L154,867.5 L151.5,870.5 L146,870.5 L144,867.5Z" fill="#fff" stroke="#000" stroke-width="1.5" />
<path d="M144,867.5 L154,867.5" fill="none" stroke="#000" stroke-width="1.1" /></g>
<g id="bracket"><path d="M447,325 L447,371.5 L437,376 L445.4,382.3 L458,375 L481,362.3 L491.5,356 L491.5,345 Z" fill="#fff" stroke="#000" stroke-width="1.3" />
<path d="M457.7,330 L457.7,375 M450,327 L450,372 M437,376 L440.5,373.5 L448,378.5 M472,338 L472,351 L480.5,356 L480.5,362 M476,345 L484,350 L484,358" fill="none" stroke="#000" stroke-width="1.2" />
<ellipse cx="442.5" cy="378" rx="1.6" ry="2.3" fill="none" stroke="#000" stroke-width="1.1" />
<ellipse cx="451.5" cy="331" rx="1" ry="1.6" fill="none" stroke="#000" stroke-width="1.1" transform="rotate(20 451.5 331)" />
<path d="M493,348.5 L493,407 L503.8,415.4 L549.2,387.7 L541.5,383 L540,385.4 L540,325.4 Q538,318 531.5,316.2 L520,322 Z" fill="#fff" stroke="#000" stroke-width="1.3" />
<path d="M503.8,415.4 L549.2,387.7" fill="none" stroke="#000" stroke-width="2.8" />
<path d="M493.8,295.4 L448.5,322.3 Q446,324 449,325.5 L488,346.5 Q492,349.5 493,353 L493,348.5 L536,322.3 Q540,320.5 540,325.4 Q538.5,318.5 531.5,316.2 Z" fill="#fff" stroke="#000" stroke-width="1.4" />
<path d="M493,352 Q491,346 486,343.5 L452,325.5" fill="none" stroke="#000" stroke-width="1.1" />
<path d="M507,310 L519,303.5 M470,311.5 L481.5,318 L479.5,319.5 L468,313Z M471,326.5 L480,321.5 L487.5,326 L478.5,331Z M482,319 L485.5,326.5 M488,322 A2,1.6 0 1 0 492,322 A2,1.6 0 1 0 488,322 M503,329 L512,333 L511,335.5 L502,331.5Z" fill="none" stroke="#000" stroke-width="1.2" />
<path d="M493.5,345.5 L536,321" fill="none" stroke="#000" stroke-width="1.1" />
<path d="M507,345.4 L507,403.8 M510,350 L510,398 M525.4,336 L525.4,373 M530.8,333 L530.8,383.8 M498,352 L498,406 M500,343.5 Q506,341 509,345 M530.8,383.8 Q531,388 537,386 M510,398 Q511,402 515,400 L537,387" fill="none" stroke="#000" stroke-width="1.1" />
<ellipse cx="499" cy="358.5" rx="1" ry="1.6" fill="none" stroke="#000" stroke-width="1.1" transform="rotate(20 499 358.5)" />
<ellipse cx="534" cy="337.5" rx="1" ry="1.6" fill="none" stroke="#000" stroke-width="1.1" transform="rotate(20 534 337.5)" />
<ellipse cx="506" cy="407.5" rx="4" ry="2.6" fill="none" stroke="#000" stroke-width="1.3" />
<ellipse cx="540.5" cy="388" rx="3.6" ry="2.4" fill="none" stroke="#000" stroke-width="1.3" />
<path d="M555.4,309 Q559.6,305.5 563.8,309 L563.8,313 L562.3,313.5 L562.3,344.6 L557.4,344.6 L557.4,313.5 L555.4,313Z" fill="#fff" stroke="#000" stroke-width="1.3" />
<path d="M555.4,311 L563.8,311" fill="none" stroke="#000" stroke-width="1.1" />
<path d="M557.8,336 L557.8,344.6 L562,344.6 L562,336Z" fill="#000" stroke="#000" stroke-width="1.2" />
<ellipse cx="560.8" cy="355.4" rx="5.8" ry="4.6" fill="#fff" stroke="#000" stroke-width="1.4" />
<path d="M558.5,355 Q561,357 563.5,355.5" fill="none" stroke="#000" stroke-width="1.1" />
<path d="M460.8,384 Q465.4,380 470,384 L470,388.5 L468.5,389 L468.5,402 L462.5,402 L462.5,389 L460.8,388.5Z" fill="#fff" stroke="#000" stroke-width="1.4" />
<path d="M460.8,386 L470,386 M462.5,393 L468.5,393 M462.5,396 L468.5,396 M462.5,399 L468.5,399" fill="none" stroke="#000" stroke-width="1.1" />
<ellipse cx="465.7" cy="411.5" rx="6.6" ry="5" fill="#fff" stroke="#000" stroke-width="1.5" />
<ellipse cx="465.7" cy="411" rx="2.6" ry="1.8" fill="none" stroke="#000" stroke-width="1.2" />
<ellipse cx="505.8" cy="434" rx="6.2" ry="5" fill="#fff" stroke="#000" stroke-width="1.9" />
<ellipse cx="505.8" cy="434" rx="2.6" ry="2" fill="none" stroke="#000" stroke-width="1.2" />
<ellipse cx="505.8" cy="449" rx="6.2" ry="5" fill="#fff" stroke="#000" stroke-width="1.7" />
<ellipse cx="505.8" cy="449" rx="2.6" ry="2" fill="none" stroke="#000" stroke-width="1.2" />
<path d="M535.4,410 L535.4,432 Q540,437 544.6,432 L544.6,410" fill="#fff" stroke="#000" stroke-width="1.3" />
<ellipse cx="540" cy="409.5" rx="4.6" ry="2.6" fill="#fff" stroke="#000" stroke-width="1.3" />
<path d="M536.5,407 Q540,403.5 543.5,407" fill="none" stroke="#000" stroke-width="1.2" />
<path d="M529.5,266.5 Q533.5,264 537.5,266.5 L537.5,274 L529.5,274Z" fill="#fff" stroke="#000" stroke-width="1.3" />
<path d="M528.5,274 L538.5,274 L538.5,283 L528.5,283Z M530,283 L530,293 L537,293 L537,283 M524.5,279.5 A2,2 0 1 0 528.5,279.5 A2,2 0 1 0 524.5,279.5 M526,290 L530,292.5 M537,290 L542,292 L542,296 L538,296 M532,293 L532,297 L536,297.5" fill="none" stroke="#000" stroke-width="1.3" />
<path d="M555.4,292 L570,285.5 L571.5,289 L557,295.5Z" fill="#fff" stroke="#000" stroke-width="1.2" />
<path d="M558.5,290.8 L560,294.2 M561.5,289.5 L563,293 M564.5,288.2 L566,291.6 M567.5,287 L569,290.4" fill="none" stroke="#000" stroke-width="1.1" />
<ellipse cx="573" cy="285.8" rx="3.4" ry="4.8" fill="#fff" stroke="#000" stroke-width="1.4" transform="rotate(-25 573 285.8)" />
<path d="M604,277.5 L607.5,273 L611,275.5 L623,269.5 L631,262.5 L635.5,268 M605,279 L608,275.5 L611.5,277.5 L624,271 L630,266" fill="none" stroke="#000" stroke-width="1.1" />
<path d="M590.8,404.4 L597.5,400.4 L616.3,377.5 Q623,375 629.8,376.2 Q633,378 632.5,381.5 L629.8,387 Q632,390 635.2,388.3 L640.6,384.2 Q643,383.5 644.6,385.6 L647.8,391 L637.9,409.8 L600.2,413.8 L592,409.8Z" fill="#fff" stroke="#000" stroke-width="1.8" />
<path d="M597.5,400.4 L600.2,413.8 M593.5,406.5 L596.5,405 L597.5,408" fill="none" stroke="#000" stroke-width="1.2" />
<ellipse cx="613.7" cy="401.7" rx="1.1" ry="1.1" fill="#000" stroke="#000" stroke-width="1.1" />
<ellipse cx="623" cy="399.8" rx="1.1" ry="1.1" fill="#000" stroke="#000" stroke-width="1.1" />
<ellipse cx="635.2" cy="400.4" rx="1.1" ry="1.1" fill="#000" stroke="#000" stroke-width="1.1" />
<ellipse cx="729.4" cy="443.5" rx="6" ry="5" fill="#fff" stroke="#000" stroke-width="1.4" />
<path d="M725.5,444 L729.4,439.5 L733.3,444 Z" fill="none" stroke="#000" stroke-width="1.1" />
<path d="M733.5,463.7 L749.6,457.5 Q753,460 752.3,463.7 L750.2,469 Q752.5,471.5 756.4,470.4 L761.7,465 L768.5,466.4 L769.8,473 L763.1,496 L725.4,509.4 L724,500 L729.4,478.5Z" fill="#fff" stroke="#000" stroke-width="1.8" />
<path d="M733.5,463.7 L724.5,501" fill="none" stroke="#000" stroke-width="3.1" />
<path d="M727,497 L764.4,486.5 M725.4,505 L762,492.5" fill="none" stroke="#000" stroke-width="1.2" />
<ellipse cx="738.3" cy="485.2" rx="1.2" ry="1.3" fill="#000" stroke="#000" stroke-width="1.1" />
<ellipse cx="748.3" cy="480.4" rx="1.2" ry="1.3" fill="#000" stroke="#000" stroke-width="1.1" />
<ellipse cx="759" cy="478.5" rx="1.2" ry="1.3" fill="#000" stroke="#000" stroke-width="1.1" />
<ellipse cx="738.9" cy="498.5" rx="1.2" ry="1.3" fill="#000" stroke="#000" stroke-width="1.1" />
<ellipse cx="757.7" cy="492" rx="1.2" ry="1.3" fill="#000" stroke="#000" stroke-width="1.1" />
<ellipse cx="729" cy="500" rx="1.2" ry="1.3" fill="#000" stroke="#000" stroke-width="1.1" />
<path d="M776.5,490 L786,473 Q790,468.5 792.5,472 Q793.5,475.5 789,478.5 L780,493.5" fill="none" stroke="#000" stroke-width="1.4" />
<path d="M779,492 L784,482" fill="none" stroke="#000" stroke-width="1.2" />
<path d="M525.4,311.5 L553,295.4" fill="none" stroke="#000" stroke-width="1.1" stroke-dasharray="14 3 3 3"/>
<path d="M540,377.7 L562.3,364.6" fill="none" stroke="#000" stroke-width="1.1" stroke-dasharray="9 4"/>
<path d="M467,420.8 L491.5,407.7" fill="none" stroke="#000" stroke-width="1.1" stroke-dasharray="9 4"/>
<path d="M505.5,416 L505.5,428 M505.5,440 L505.5,444 M506,455 L506,467.5 L424,515 L424.7,670" fill="none" stroke="#000" stroke-width="1.1" stroke-dasharray="22 3 3 3"/>
<path d="M730,450 L730,460 M730,510 L730,521 L545,631" fill="none" stroke="#000" stroke-width="1.1" stroke-dasharray="30 3 3 3"/></g>
<g id="cover"><path d="M126.9,492 L186.9,467.3 L223.8,486.5 L220.8,492 L206.2,500.4 L212.3,508.8 L210,516.5 L191.5,527.3 191.5,527.3 C191.2,528.6 189.5,531.4 190,535 C190.5,538.6 192,544.4 194.6,548.8 C197.2,553.2 201,557.4 205.4,561.2 C209.8,565.1 214,568.3 220.8,571.9 C227.6,575.5 242,580.9 246.2,582.7 L246.2,586 L217.7,613.5 217.7,613.5 C214.1,612.5 203.9,610.6 196.2,607.3 C188.5,604 179.4,598.9 171.5,593.5 C163.6,588.1 154.7,580.6 148.5,575 C142.3,569.4 137.9,565.2 134.6,559.6 C131.3,554 129.7,547.9 128.5,541.2 C127.3,534.5 127,525 127.2,519.6 C127.4,514.2 129.1,510.6 129.5,508.8 L126.2,501.2 Z" fill="#fff" stroke="#000" stroke-width="1.4" />
<path d="M190.5,469.5 L220,485 M178,474 L212,492 L214.5,488.5 M217.7,613.5 L243,588 M214,609.5 L239,585.5" fill="none" stroke="#000" stroke-width="1.1" />
<path d="M135,561 C137.3,563.9 142.8,572.6 149,578.5 C155.2,584.4 164.2,591.3 172,596.5 C179.8,601.7 192,607.3 196,609.5" fill="none" stroke="#000" stroke-width="1.1" />
<path d="M137,563 L146,576 M150,575 L146.5,579" fill="none" stroke="#000" stroke-width="1.1" />
<path d="M127,492 Q133,490 141.5,495.5 Q138,502 130.5,503.5 Q127.5,500 127,492Z" fill="#fff" stroke="#000" stroke-width="1.5" />
<ellipse cx="134.6" cy="497.3" rx="3.6" ry="2.3" fill="none" stroke="#000" stroke-width="1.3" transform="rotate(-25 134.6 497.3)" />
<ellipse cx="202" cy="511.6" rx="6.4" ry="4.4" fill="none" stroke="#000" stroke-width="1.5" />
<ellipse cx="203" cy="511.3" rx="2.4" ry="2" fill="none" stroke="#000" stroke-width="1.2" />
<path id="lbp" d="M156.5,503 C156,505.8 153.9,514.2 153.5,520 C153.1,525.8 153,532.3 154,538 C155,543.7 156.9,549 159.5,554 C162.1,559 164.6,562.7 169.5,568 C174.4,573.3 185.8,583 189,586" fill="none" stroke="none"/>
<text font-family="'Liberation Sans',sans-serif" font-weight="bold" font-size="18.5" fill="#fff" stroke="#000" stroke-width="1.1" textLength="92" lengthAdjust="spacingAndGlyphs"><textPath href="#lbp" textLength="92" lengthAdjust="spacingAndGlyphs">LAWN-BOY</textPath></text>
<path d="M193.8,584.2 L200.8,579.6 L223.8,588.8 L226.2,597.3 L210.8,599.6 L210,595.8 Z" fill="#fff" stroke="#000" stroke-width="1.4" />
<ellipse cx="219.2" cy="603.5" rx="1.6" ry="1.6" fill="#000" stroke="#000" stroke-width="1.2" />
<path d="M212.5,543.5 Q216,541.5 219,540 Q222.5,535 226,536.5 Q227.5,541 224.5,546.5 Q220,550 215.5,548.5 Z" fill="#fff" stroke="#000" stroke-width="1.8" />
<path d="M220,541.5 Q222,538.5 224,540 Q223,544 220.5,545.5Z" fill="none" stroke="#000" stroke-width="1.2" />
<path d="M217.5,549 L217.5,558 L221.5,558 L221.5,548.5 M217.5,552 L221.5,552 M217.5,555 L221.5,555" fill="none" stroke="#000" stroke-width="1.2" />
<path d="M219.3,560 L219.8,762" fill="none" stroke="#000" stroke-width="1.1" stroke-dasharray="30 3 3 3"/>
<path d="M129,634.5 Q133.2,631 137.5,634.5 L137.5,641.5 L135.8,643 L135.8,649.5 L131,649.5 L131,643 L129,641.5Z" fill="#fff" stroke="#000" stroke-width="1.4" />
<path d="M129,636.5 L137.5,636.5 M131,645 L135.8,645 M131,647.5 L135.8,647.5" fill="none" stroke="#000" stroke-width="1.1" />
<path d="M130.5,634.5 L130.5,641 L136,641 L136,634.5" fill="#000" stroke="#000" stroke-width="1.2" />
<path d="M133.5,651 L133.5,668" fill="none" stroke="#000" stroke-width="1.1" /></g>
<g id="engine"><path d="M127.5,224 C126.6,226 123.1,232.2 122,236 C120.9,239.8 120.2,241.7 121,247 C121.8,252.3 123,261.5 127,268 C131,274.5 136.2,280.8 145,286 C153.8,291.2 168.3,296.2 180,299 C191.7,301.8 205.8,302.2 215,303 C224.2,303.8 232.1,303.4 235.5,303.5 L235.5,283.5 235.5,283.5 C232.1,283.4 223.4,283.7 215,283 C206.6,282.3 195,281.7 185,279.5 C175,277.3 163.5,274.1 155,270 C146.5,265.9 139,260 134,255 C129,250 126.6,243.8 125,240 C123.4,236.2 124.1,234.7 124.5,232 C124.9,229.3 127,225.3 127.5,224" fill="#fff" stroke="#000" stroke-width="1.3" />
<path d="M262.6,279 L336,268.2 Q344,268 345.5,274 L346,296 L344,297.5 L344,304 L346.5,305 L346.5,310 Q346,313.5 341,314.5 L280,325.8 Q268,326.5 264.7,318 L262.6,300 Z" fill="#fff" stroke="#000" stroke-width="1.4" />
<path d="M263,279.5 L334,268.8" fill="none" stroke="#000" stroke-width="3.1" />
<path d="M264.7,289 Q267,289.5 272,288 L344.4,276.4 M269,301 Q274,299.5 281.8,297.7 L345.4,287.6 M264.5,284 L264.5,312 M266.5,290 L266.5,312" fill="none" stroke="#000" stroke-width="1.2" />
<path d="M287,324.5 L287,336 Q293.5,339.5 300,336 L300,322.5" fill="#fff" stroke="#000" stroke-width="1.3" />
<path d="M287,327.5 Q293.5,330.5 300,327.5 M287,330.5 Q293.5,333.5 300,330.5 M287,333.5 Q293.5,336.5 300,333.5" fill="none" stroke="#000" stroke-width="1.2" />
<path d="M227.5,250 L227.5,259.5 Q231,263 235.5,260 L235.5,252 M232,251 L232,261" fill="#fff" stroke="#000" stroke-width="1.2" />
<path d="M240.5,256 L241,271 Q243,276 250,273.5 L262,266 L268,260 M245,261 L249,260.5 L249,265 M246,263 L251,262.5" fill="none" stroke="#000" stroke-width="1.2" />
<path d="M237,255.5 C240,256.4 247,259.4 255,261 C263,262.6 275.8,264.6 285,265 C294.2,265.4 301.3,264.8 310,263.5 C318.7,262.2 330,259.2 337,257 C344,254.8 349.5,251.6 352,250.5" fill="none" stroke="#000" stroke-width="1.4" />
<path d="M268,261 L272,268 L276,272 M272,264 Q277,261 280,266 L277,274 L270,279 M283,269 Q290,258 299,266 L293,268Z M303,263.5 L303,269 L312,268 L312,263 M318,267 L333,263.5 M286,272 L336,264.5" fill="none" stroke="#000" stroke-width="1.8" />
<path d="M290,262 Q294,259.5 298,264 L292,267Z M270,262.5 L275,266 L273,270Z M305,264 L311,263.5 L311,267.5 L305,268Z" fill="#000" stroke="#000" stroke-width="1.2" />
<path d="M266,282 L338,271.5 M268,285.5 L340,274.5" fill="none" stroke="#000" stroke-width="1.1" stroke-dasharray="6 3"/>
<path d="M264,281 Q266,273 274,272 L270,280Z" fill="none" stroke="#000" stroke-width="1.4" />
<path d="M205.1,186.6 C204.6,188.8 202.3,194.9 202,200 C201.7,205.1 201.3,211.8 203,217 C204.7,222.2 208.3,226.6 212,231 C215.7,235.4 218,239.1 225.3,243.2 C232.6,247.2 244.5,252.6 255.6,255.3 C266.7,258 278.4,259.5 291.9,259.3 C305.3,259.1 322.2,256.7 336.3,254.3 C350.4,252 368.3,248.2 376.7,245.2 C385.1,242.1 384.3,240.5 386.5,236 C388.7,231.5 389.8,223.2 390,218 C390.2,212.8 388.3,207.2 388,205 Z" fill="#fff" stroke="#000" stroke-width="1.4" />
<path d="M203,203 C203.7,205 203.6,210 207,215 C210.4,220 215.2,227.7 223.3,233.1 C231.4,238.5 244.2,244 255.6,247.2 C267.1,250.4 278.6,252.3 292,252.3 C305.4,252.3 322.2,249.6 336.3,247.2 C350.4,244.8 368.3,241.1 376.7,238.1 C385.1,235.1 385.1,230.5 386.8,229" fill="none" stroke="#000" stroke-width="1.2" />
<path d="M230.3,136.8 C232.2,135.6 234.2,135.1 238,134.5 C241.8,133.9 246.9,133.2 255.6,133.1 C264.3,133 285.7,133.2 296,134.1 C306.3,135 317.2,137.4 324.2,139.2 C331.2,141 335.4,142.7 342.4,146.3 C349.4,149.9 364.6,158.3 370.7,163.4 C376.8,168.5 380.2,175 382.8,180.6 C385.4,186.2 387.1,195.7 387.9,200.8 C388.7,205.9 388.5,211.9 388,214.9 C387.5,217.9 388.3,219.3 384.8,221 C381.3,222.7 377.3,223.7 364.6,226 C351.9,228.3 312.4,234.5 300,236.1 C287.6,237.7 288.5,237.6 281.8,236.7 C275.1,235.8 264.1,233.3 255.6,230 C247.1,226.7 232.3,219.6 225.3,214.9 C218.3,210.2 212.1,203 209.1,198.8 C206.1,194.6 204.5,191.5 205.1,186.6 C205.7,181.7 210.2,173 213.2,166.4 C216.2,159.8 222.7,146.9 225.3,142.5 C227.9,138.1 228.4,138 230.3,136.8Z" fill="#fff" stroke="#000" stroke-width="1.5" />
<path d="M367.7,162.3 L371.5,165.8 L384.6,159.2 L388.8,152.3 Q393,151.5 397,156.2 L402.7,163.8 L383,178 L380,174.6" fill="#fff" stroke="#000" stroke-width="1.4" />
<path d="M384.6,159.2 L393,164.6 L397,156.2 M393,164.6 L380,174.6 M374,168.5 L377.5,169" fill="none" stroke="#000" stroke-width="1.2" />
<path d="M364.5,159.2 Q375.5,166.5 383.2,181" fill="none" stroke="#000" stroke-width="1.5" />
<ellipse cx="290" cy="186.8" rx="59" ry="35" fill="none" stroke="#000" stroke-width="1.2" transform="rotate(3 290 186.8)" />
<ellipse cx="290" cy="187.5" rx="55.5" ry="32" fill="none" stroke="#000" stroke-width="1.1" transform="rotate(3 290 187.5)" />
<path d="M263.7,190 L265,206 Q290,215 317,204 L317.2,188" fill="#fff" stroke="#000" stroke-width="1.2" />
<path d="M265,195.5 Q290,203 317,194" fill="none" stroke="#000" stroke-width="1.1" />
<path d="M265.5,198.6 Q290,206.1 316.5,197.1" fill="none" stroke="#000" stroke-width="1.1" />
<path d="M266,201.7 Q290,209.2 316,200.2" fill="none" stroke="#000" stroke-width="1.1" />
<path d="M266.5,204.8 Q290,212.3 315.5,203.3" fill="none" stroke="#000" stroke-width="1.1" />
<path d="M267,207.9 Q290,215.4 315,206.4" fill="none" stroke="#000" stroke-width="1.1" />
<path d="M249.5,186 L244,204.5 M262.5,192.5 L254,209 L266,206 M320,192.5 L328.5,209 M328.5,184.5 L336.5,203 M246,178 Q247,186 249.5,186 M333,178 Q332,184 328.5,184.5 M254,209 Q290,224 328.5,209" fill="none" stroke="#000" stroke-width="1.2" />
<ellipse cx="290" cy="170.5" rx="38.5" ry="21.5" fill="#fff" stroke="#000" stroke-width="1.4" transform="rotate(4 290 170.5)" />
<ellipse cx="290" cy="170" rx="35.5" ry="19.2" fill="none" stroke="#000" stroke-width="1.2" transform="rotate(4 290 170)" />
<path d="M253,176 Q258,190 290,193.5 Q322,192 328,175" fill="none" stroke="#000" stroke-width="1.9" />
<path d="M269.7,159.4 L313,181.6" fill="none" stroke="#000" stroke-width="2.6" />
<path d="M271.5,157.2 L314.5,179" fill="none" stroke="#000" stroke-width="0.9" />
<path d="M352.3,156.5 L352.3,171 M359.6,158.5 L359.6,171" fill="none" stroke="#000" stroke-width="1.5" />
<ellipse cx="357" cy="172" rx="6.7" ry="3.8" fill="none" stroke="#000" stroke-width="1.4" />
<path d="M354,172.5 L360,172.5" fill="none" stroke="#000" stroke-width="1.1" />
<path d="M340,146.5 L346.5,141.5 L353.8,142.3 L363.8,147.3 L370.8,154.6 L370.4,159.6 L365.4,161.5 L360,158.5 L351.5,156.5 L341.5,149.2Z" fill="#fff" stroke="#000" stroke-width="1.5" />
<path d="M340,146.5 L343,146 L352.5,153.5 L361,155.5 L366,158.5 L370.8,154.6" fill="none" stroke="#000" stroke-width="1.2" />
<path d="M361,156 L365.4,161.5 L370.4,159.6 L370.6,155.5Z M340,146.5 L341.5,149.2 L344,148Z" fill="#000" stroke="#000" stroke-width="1.2" />
<path d="M349,144.5 L358,150 M352,143.5 L355.5,151.5 M356,145.5 L351,150 M359,148.5 L363,153" fill="none" stroke="#000" stroke-width="1.1" />
<ellipse cx="372.7" cy="197.7" rx="9" ry="5.5" fill="#fff" stroke="#000" stroke-width="1.3" />
<ellipse cx="368.7" cy="216.9" rx="9.5" ry="7" fill="#fff" stroke="#000" stroke-width="1.4" />
<path d="M361,222 Q368,226 376,221.5" fill="none" stroke="#000" stroke-width="1.7" />
<ellipse cx="225.3" cy="243.2" rx="2" ry="2.5" fill="#000" stroke="#000" stroke-width="1.4" />
<ellipse cx="338.5" cy="253.5" rx="2" ry="2.3" fill="#000" stroke="#000" stroke-width="1.4" />
<path d="M258,376 L266,369.5 L301,364.5 L306,367.5 L300,373.5 L264,380Z" fill="#fff" stroke="#000" stroke-width="1.2" />
<path d="M266,369.5 L270,372 L300,367.5 M270,372 L264,379.5" fill="none" stroke="#000" stroke-width="0.9" /></g>
<g id="flap"><path d="M707.4,625 L743.4,616 L916.7,716 L880.5,727 L864.5,717.5 L858,722.3 L714,640.5 L714,634 Z" fill="#fff" stroke="#000" stroke-width="1.3" />
<path d="M707.4,625 L717,632 L864.5,717.5 M717,632 L714,634 M866.5,719 L881.5,728 M858,722.3 L861,717" fill="none" stroke="#000" stroke-width="1.2" />
<path d="M709,652 L710.5,655 L868.5,746.5 L870,743.5 L711.5,651.5 Z" fill="#fff" stroke="#000" stroke-width="1.2" />
<path d="M656,619.8 L691.5,639.2 M655,622 L690,641.2" fill="none" stroke="#000" stroke-width="1.3" />
<path d="M642.5,615.2 L652,614 Q656,616.5 656.5,620.5 L659,622.5 M642.5,615.2 L648,619" fill="none" stroke="#000" stroke-width="1.3" />
<ellipse cx="651" cy="621" rx="3.6" ry="4.6" fill="none" stroke="#000" stroke-width="1.4" transform="rotate(20 651 621)" />
<ellipse cx="651.8" cy="620.5" rx="1.6" ry="2" fill="#000" stroke="#000" stroke-width="1.2" />
<path d="M692,637.5 Q688,641 688.5,646.5 Q691,652 696,650 L700,646.5 M694,640.5 Q691,643.5 692.5,647.5 L696.5,646 M696,639.5 L703,637 Q705,639 703.5,642 L699,643 M700,644 L703.5,643.5 L703,647 L699,648" fill="none" stroke="#000" stroke-width="1.3" />
<ellipse cx="866.9" cy="756.5" rx="3.7" ry="3.7" fill="#000" stroke="#000" stroke-width="1.2" />
<ellipse cx="868" cy="756" rx="0.9" ry="0.9" fill="#fff" stroke="#000" stroke-width="0.6" />
<path d="M885,740.5 Q889.5,739 891.5,742.5 L891.8,750 Q890,757.5 885.5,759 Q880,758 878.5,752.5 L876.5,750.5 L881,750 Q885,747.5 885,740.5Z" fill="#fff" stroke="#000" stroke-width="1.7" />
<path d="M886.5,743.5 Q889.5,746 888.5,752.5" fill="none" stroke="#000" stroke-width="1.9" />
<path d="M896,738 L904.5,733.5 L905.5,732 Q908,730.5 909.5,732.5 L909,735.5 L906.5,737 L897.5,740.5 Z" fill="#fff" stroke="#000" stroke-width="1.7" />
<path d="M904.6,763.3 L946.3,784.8 M903.6,765.9 L944.5,787" fill="none" stroke="#000" stroke-width="1.3" />
<path d="M909,757.5 Q899.5,756 896.5,763 Q895.5,769.5 901.5,770.8 L906.5,768.5 M909,760.5 Q902.5,759.5 900,764 Q900,767.5 903.5,767" fill="none" stroke="#000" stroke-width="1.4" />
<path d="M902,756.8 L911,756.3" fill="none" stroke="#000" stroke-width="1.1" stroke-dasharray="3 2"/>
<path d="M936,783 L947,785.5 Q952,787.5 950.5,791.5 Q947,795 941.5,793.5 M941,787.5 L945.5,788.5 Q947,790.5 944.5,792" fill="none" stroke="#000" stroke-width="1.4" /></g>
<g id="handles"><path d="M787.6,131.5 L797,104 C800,88 808,77.5 824,79.8 L948,116.5 Q963,121 961.5,130 Q961,134 957,139 L940,156.5 L917.5,182" fill="none" stroke="#000" stroke-width="11.5" stroke-linejoin="round"/><path d="M787.6,131.5 L797,104 C800,88 808,77.5 824,79.8 L948,116.5 Q963,121 961.5,130 Q961,134 957,139 L940,156.5 L917.5,182" fill="none" stroke="#fff" stroke-width="8.9" stroke-linejoin="round"/>
<path d="M789,106.5 Q796,105 803,110.5 M790.5,103.5 L803.8,108 M935,151.5 Q941,152 944.5,161.5 M937.5,149 L947.5,159" fill="none" stroke="#000" stroke-width="1.5" />
<ellipse cx="787.5" cy="131.5" rx="5.2" ry="3" fill="#fff" stroke="#000" stroke-width="1.2" transform="rotate(20 787.5 131.5)" />
<ellipse cx="917.5" cy="182.5" rx="5.2" ry="3" fill="#fff" stroke="#000" stroke-width="1.2" transform="rotate(40 917.5 182.5)" />
<path d="M902,192 L874.5,224 L860.5,261 L866,270.5 L870.5,269 L888,225.5 L910.5,196.5" fill="#fff" stroke="#000" stroke-width="1.8" />
<ellipse cx="905.5" cy="191.5" rx="4.5" ry="2.6" fill="#fff" stroke="#000" stroke-width="1.2" transform="rotate(25 905.5 191.5)" />
<path d="M880.5,227 L866,266 M861,261 L865,262.5 L870.5,269" fill="none" stroke="#000" stroke-width="1.1" />
<ellipse cx="875.5" cy="243" rx="1.3" ry="1.8" fill="#000" stroke="#000" stroke-width="1.1" />
<ellipse cx="868" cy="259.5" rx="1.3" ry="1.8" fill="#000" stroke="#000" stroke-width="1.1" />
<path d="M778,142.3 L768,168.5 L739.6,202.3 L737.3,207 L741.5,215.4 L748,214.6 L777.3,177.7 L788.8,141.5" fill="#fff" stroke="#000" stroke-width="1.8" />
<ellipse cx="783" cy="139.5" rx="4.8" ry="2.6" fill="#fff" stroke="#000" stroke-width="1.2" transform="rotate(15 783 139.5)" />
<path d="M771,172.5 L743.5,209 M738,205 L742,206.5 L747,214" fill="none" stroke="#000" stroke-width="1.1" />
<ellipse cx="758" cy="193" rx="1.5" ry="2" fill="#000" stroke="#000" stroke-width="1.1" />
<ellipse cx="747.5" cy="206.5" rx="1.5" ry="2" fill="#000" stroke="#000" stroke-width="1.1" />
<path d="M702.5,287.5 L752,225.5 C758,217 765,213.5 775,213.5 L783,213.8 L843,236.3 C850,239.5 851.5,246 850,256.3 L818.5,335" fill="none" stroke="#000" stroke-width="11.5" stroke-linejoin="round"/><path d="M702.5,287.5 L752,225.5 C758,217 765,213.5 775,213.5 L783,213.8 L843,236.3 C850,239.5 851.5,246 850,256.3 L818.5,335" fill="none" stroke="#fff" stroke-width="8.9" stroke-linejoin="round"/>
<ellipse cx="702.5" cy="288" rx="5.5" ry="3" fill="#fff" stroke="#000" stroke-width="1.2" transform="rotate(35 702.5 288)" />
<ellipse cx="818.5" cy="335.5" rx="5.5" ry="3" fill="#fff" stroke="#000" stroke-width="1.2" transform="rotate(20 818.5 335.5)" />
<ellipse cx="744" cy="235.4" rx="1.6" ry="2.2" fill="#000" stroke="#000" stroke-width="1.2" />
<path d="M741.5,231.4 q-3.5,3 -1,7.5" fill="none" stroke="#000" stroke-width="1.2" />
<ellipse cx="730" cy="253.5" rx="1.6" ry="2.2" fill="#000" stroke="#000" stroke-width="1.2" />
<path d="M727.5,249.5 q-3.5,3 -1,7.5" fill="none" stroke="#000" stroke-width="1.2" />
<ellipse cx="845" cy="273.7" rx="1.6" ry="2.2" fill="#000" stroke="#000" stroke-width="1.2" />
<path d="M842.5,269.7 q-3.5,3 -1,7.5" fill="none" stroke="#000" stroke-width="1.2" />
<ellipse cx="836.3" cy="295.3" rx="1.6" ry="2.2" fill="#000" stroke="#000" stroke-width="1.2" />
<path d="M833.8,291.3 q-3.5,3 -1,7.5" fill="none" stroke="#000" stroke-width="1.2" />
<path d="M689.3,294.3 L663.7,325 L642.1,358.7 L650.8,365.6 L656,364.3 L658.5,358.3 L673.3,334.5 L701.8,298.6" fill="#fff" stroke="#000" stroke-width="2" />
<ellipse cx="695.5" cy="294.6" rx="6.4" ry="3.2" fill="#fff" stroke="#000" stroke-width="1.8" transform="rotate(30 695.5 294.6)" />
<path d="M691,296 L700.5,299.5" fill="none" stroke="#000" stroke-width="1.9" />
<path d="M664.6,330.6 L646,359.2" fill="none" stroke="#000" stroke-width="1.5" />
<ellipse cx="661.5" cy="341.5" rx="3.6" ry="5.2" fill="#fff" stroke="#000" stroke-width="2" transform="rotate(25 661.5 341.5)" />
<ellipse cx="666.3" cy="344" rx="4" ry="4.8" fill="#fff" stroke="#000" stroke-width="1.9" transform="rotate(10 666.3 344)" />
<ellipse cx="649" cy="360" rx="3.4" ry="4.6" fill="#fff" stroke="#000" stroke-width="2.2" transform="rotate(25 649 360)" />
<ellipse cx="654" cy="360.5" rx="4" ry="4.8" fill="#fff" stroke="#000" stroke-width="2" transform="rotate(10 654 360.5)" />
<path d="M805.4,345.6 L788,385.4 L773.4,416.5 L765.6,423 L777.7,432.5 L781.1,429.5 L790.7,407.9 L798.4,395.7 L810.6,368 L818.5,348.6" fill="#fff" stroke="#000" stroke-width="1.7" />
<ellipse cx="811.6" cy="345.3" rx="6.2" ry="3.4" fill="#fff" stroke="#000" stroke-width="1.5" transform="rotate(25 811.6 345.3)" />
<path d="M807,347.5 L816,349.5" fill="none" stroke="#000" stroke-width="1.9" />
<path d="M790.2,387 L773.4,420 M788,385.4 L786,391" fill="none" stroke="#000" stroke-width="1.4" />
<ellipse cx="777.2" cy="403.5" rx="3.1" ry="4.4" fill="#fff" stroke="#000" stroke-width="1.5" transform="rotate(10 777.2 403.5)" />
<ellipse cx="787" cy="407" rx="2.8" ry="3" fill="#fff" stroke="#000" stroke-width="1.5" />
<ellipse cx="769.3" cy="421.5" rx="3.4" ry="4.4" fill="#fff" stroke="#000" stroke-width="1.8" transform="rotate(10 769.3 421.5)" />
<ellipse cx="777.3" cy="427.3" rx="3.8" ry="4.6" fill="#fff" stroke="#000" stroke-width="1.8" transform="rotate(10 777.3 427.3)" />
<path d="M775,425 L780,424.5 L780.5,430 L776.5,431.5Z" fill="#000" stroke="#000" stroke-width="1.2" />
<ellipse cx="821" cy="263.5" rx="7.5" ry="7.5" fill="#fff" stroke="#000" stroke-width="1.3" />
<ellipse cx="821" cy="263.5" rx="4.5" ry="4.5" fill="#fff" stroke="#000" stroke-width="1.2" />
<ellipse cx="821" cy="263.5" rx="2.3" ry="2.3" fill="#000" stroke="#000" stroke-width="1.2" />
<path d="M893.3,289.7 L910.5,295.7 L908.3,302.1 L891,295.8 Q889.3,292.5 893.3,289.7Z" fill="#fff" stroke="#000" stroke-width="2" />
<path d="M895.5,291 L894.3,296.5 M898.5,292 L897.3,297.8 M901.5,293 L900.3,299 M904.5,294 L903.3,300 M907.5,295 L906.3,301" fill="none" stroke="#000" stroke-width="1.1" />
<ellipse cx="915.8" cy="301.5" rx="6.2" ry="7.2" fill="#fff" stroke="#000" stroke-width="1.9" />
<path d="M913.5,295 Q910.5,301 913.5,308" fill="none" stroke="#000" stroke-width="1.2" /></g>
<g id="muffler"><ellipse cx="293.5" cy="435.5" rx="66" ry="41" fill="#fff" stroke="#000" stroke-width="1.4" transform="rotate(2 293.5 435.5)" />
<path d="M232,446 C235.2,448.8 243.8,458.6 251,463 C258.2,467.4 266.8,470.5 275,472.5 C283.2,474.5 291.7,475.6 300,475 C308.3,474.4 317,472.3 325,469 C333,465.7 342.7,459.2 348,455 C353.3,450.8 355.5,445.8 357,444" fill="none" stroke="#000" stroke-width="1.2" />
<path d="M237,452 C240,454.4 248.2,462.8 255,466.5 C261.8,470.2 270.2,472.8 278,474.5 C285.8,476.2 293.7,477.2 302,476.5 C310.3,475.8 320,473.5 328,470 C336,466.5 346.3,457.9 350,455.5" fill="none" stroke="#000" stroke-width="1.2" />
<path d="M316,470 C319.2,468.9 329.2,466.5 335,463.5 C340.8,460.5 348.3,453.9 351,452" fill="none" stroke="#000" stroke-width="3.1" />
<path d="M233,418 C232.5,420.3 229.8,427.3 230,432 C230.2,436.7 232.3,442 234,446 C235.7,450 239,454.3 240,456" fill="none" stroke="#000" stroke-width="1.2" />
<path d="M248.5,395.5 L327.8,404.5 L363,441.5 Q366,446 362.5,450.5 L358,452.5 L241,465.5 Q237,464 237.9,460 L239.5,456.8 Z" fill="#fff" stroke="#000" stroke-width="1.5" />
<path d="M241,461.7 L357.2,448.6 M299,447 L360,443.5" fill="none" stroke="#000" stroke-width="1.3" />
<path d="M248.5,396 L256.7,432.3 M239.5,456.8 L251.8,436.4" fill="none" stroke="#000" stroke-width="1.2" />
<ellipse cx="293.5" cy="429.5" rx="34.3" ry="19.5" fill="none" stroke="#000" stroke-width="1.1" stroke-dasharray="7 3"/>
<path d="M257.5,404.5 L262.4,395.5 Q264,393.5 268,394 L296.7,393.9 L303.3,401.2 L300,406.5 L262.4,410.5 Z" fill="#fff" stroke="#000" stroke-width="1.4" />
<path d="M269.5,399.5 Q267,402.5 270,404.5 L296,401.5 Q299,399.5 296.5,397 Z" fill="none" stroke="#000" stroke-width="1.3" />
<ellipse cx="262.5" cy="405.5" rx="2" ry="2.2" fill="none" stroke="#000" stroke-width="1.2" />
<ellipse cx="299" cy="398.5" rx="1.4" ry="1.6" fill="none" stroke="#000" stroke-width="1.1" />
<path d="M263,394.5 Q267,390 272,394 M291,393.9 Q295,391.5 298,394" fill="none" stroke="#000" stroke-width="1.2" />
<path d="M267.3,422.5 L280.4,414.3 L287,413 M280.4,414.3 L291,427.5 L303,421 L313,424 L314.5,428 L306,428.5 L302,433 L288,436.5 L284,434 L276,436 L272,432.5 L275,429 Z M291,427.5 L284,434 M296,412 L300,419.5 L329,404.5 M283,410.5 L316,400.5" fill="none" stroke="#000" stroke-width="1.3" />
<path d="M272,430 L277,434 L283,432" fill="none" stroke="#000" stroke-width="2.1" />
<path d="M328,413 Q331,409.5 336.5,411 L341.5,414.5 L341,420 L336,422.5 L330,421 L327.5,417Z" fill="#fff" stroke="#000" stroke-width="1.3" />
<ellipse cx="333.7" cy="416" rx="2.6" ry="2.3" fill="none" stroke="#000" stroke-width="1.2" />
<path d="M331,424 L358,440.5 M341.5,418.5 Q346,417 347,412" fill="none" stroke="#000" stroke-width="1.2" />
<path d="M244,427.5 L249,425.5 L255,428 L255.5,434.5 L250,437.5 L244,435 Z" fill="#fff" stroke="#000" stroke-width="1.4" />
<ellipse cx="249.5" cy="431" rx="2.4" ry="2.2" fill="none" stroke="#000" stroke-width="1.2" />
<ellipse cx="244.5" cy="460.5" rx="2.6" ry="1.4" fill="none" stroke="#000" stroke-width="1.1" />
<ellipse cx="359.5" cy="445" rx="2.4" ry="1.5" fill="#000" stroke="#000" stroke-width="1.2" />
<ellipse cx="250.5" cy="398" rx="2" ry="1.6" fill="#000" stroke="#000" stroke-width="1.2" />
<path d="M354,396 Q359.3,390 364.6,396 L364.6,400.5 L361.5,401.5 L361.5,416.8 L357.2,416.8 L357.2,401.5 L354,400.5Z" fill="#fff" stroke="#000" stroke-width="1.4" />
<path d="M354,398 L364.6,398 M357.2,405 L361.5,405 M357.2,408 L361.5,408 M357.2,411 L361.5,411 M357.2,414 L361.5,414" fill="none" stroke="#000" stroke-width="1.1" />
<path d="M247.5,474 L247.5,484 L245.2,485 L245.2,489 Q249.7,492.5 254.2,489 L254.2,485 L252,484 L252,474Z" fill="#fff" stroke="#000" stroke-width="1.4" />
<path d="M247.5,477 L252,477 M247.5,480 L252,480 M245.2,486.5 L254.2,486.5" fill="none" stroke="#000" stroke-width="1.1" />
<path d="M247.5,276 L247.5,395 M248.5,400 L249,428 M249.5,466 L249.7,473" fill="none" stroke="#000" stroke-width="1.1" stroke-dasharray="40 3 4 3"/>
<path d="M359.7,418 L359.7,441 M360,452 L360.8,719" fill="none" stroke="#000" stroke-width="1.1" stroke-dasharray="60 3 4 3"/>
<path d="M295.5,491 L296.3,743" fill="none" stroke="#000" stroke-width="1.1" stroke-dasharray="50 3 5 3"/></g>
<g id="tank"><path d="M406.5,133 Q406.5,126.5 412.5,123 L465.5,92 Q472.5,88 479.5,92 L571,143.5 Q580.5,148.5 580.5,158 L580.5,198 Q580.5,204.5 574.5,208 L522,238.5 Q515,242.5 508,238.5 L412.5,185.5 Q406.5,182 406.5,175 Z" fill="#fff" stroke="#000" stroke-width="2.1" />
<path d="M411,129.5 L506,183.5 M414,127.5 L503,178.5 M421,139 L499,183.5" fill="none" stroke="#000" stroke-width="1.1" />
<path d="M520.8,181.8 L573.3,150.6 M536,178.5 L570,158.3 M551.4,160.5 L570,149" fill="none" stroke="#000" stroke-width="1.1" />
<path d="M511.5,204 L511.5,231.5 M515,194.5 L515,237.5 M519.7,203 L519.7,233.8" fill="none" stroke="#000" stroke-width="1.2" />
<ellipse cx="531.7" cy="157" rx="17" ry="11" fill="none" stroke="#000" stroke-width="1.2" />
<path d="M519.5,150 L519.5,158 A12.2,7.6 0 0 0 544,158 L544,150" fill="#000" stroke="#000" stroke-width="1.2" />
<ellipse cx="531.7" cy="149" rx="12.2" ry="7.5" fill="#fff" stroke="#000" stroke-width="1.4" />
<path d="M523,151 Q531,157 541,152" fill="none" stroke="#000" stroke-width="1.9" />
<path d="M522,159.5 Q531.7,165 541.5,159.5 M523,162.5 Q531.7,167.5 540.5,162.5" fill="none" stroke="#fff" stroke-width="0.9" />
<path d="M514.4,36 L522,31.8 Q530.5,25 539.4,31.8 L547,36 L547.6,53.2 L538,60.4 L523,60.4 L514.4,56.5Z" fill="#fff" stroke="#000" stroke-width="1.5" />
<path d="M513.8,45.5 L520,45.8 M541.5,45.8 L548,45.5 M517.8,46 L517.8,57.5 M523,47.5 L523,60.4 M526,48 L526,60 M535.6,48 L535.6,60 M538.5,47.5 L538.5,60.4 M544.2,46 L544.2,56.5 M520,37.5 L520.5,45.5 M541,37.5 L540.8,45.5" fill="none" stroke="#000" stroke-width="1.3" />
<ellipse cx="530.5" cy="41" rx="10.5" ry="6.2" fill="none" stroke="#000" stroke-width="1.3" />
<path d="M522,36.5 Q530.5,44.5 539,36.5" fill="none" stroke="#000" stroke-width="1.2" />
<path d="M522.2,69 L522.2,74.5 A8.6,4.6 0 0 0 539.4,74.5 L539.4,69" fill="#fff" stroke="#000" stroke-width="1.4" />
<ellipse cx="530.8" cy="69.2" rx="8.6" ry="4.4" fill="#fff" stroke="#000" stroke-width="1.4" />
<path d="M527,75.5 L530.5,75.5 M532.5,75.5 L536,75.5" fill="none" stroke="#000" stroke-width="1.1" />
<ellipse cx="530.8" cy="91.8" rx="11.5" ry="7.4" fill="none" stroke="#000" stroke-width="1.8" />
<ellipse cx="534" cy="250" rx="5.4" ry="3.8" fill="none" stroke="#000" stroke-width="1.3" />
<path d="M536.5,253 L538,257 L540,256" fill="none" stroke="#000" stroke-width="1.2" />
<path d="M392.7,176.2 L399.6,180 L402.7,191.5 L399.2,193 L392.7,189.2Z" fill="#fff" stroke="#000" stroke-width="1.5" />
<path d="M394.6,182.5 L397.8,183.5 L397.8,187.5 L394.6,186.5Z" fill="#000" stroke="#000" stroke-width="1.2" />
<path d="M399.6,180 L399.2,193" fill="none" stroke="#000" stroke-width="1.1" /></g>
<g id="wheels"><ellipse cx="548.2" cy="716.2" rx="7.5" ry="7.8" fill="none" stroke="#000" stroke-width="1.1" stroke-dasharray="4 3"/>
<ellipse cx="548.5" cy="716" rx="1.8" ry="2.2" fill="none" stroke="#000" stroke-width="0.9" />
<path d="M554,721 L566,727" fill="none" stroke="#000" stroke-width="0.9" stroke-dasharray="3 2.5"/>
<g id="bset"><path d="M565,725.7 L556.9,733 Q552,740 552.9,746.5 L559.6,755.3 L569,749.2 L569,730.4 Z" fill="#fff" stroke="#000" stroke-width="1.2" stroke-dasharray="5 2.5"/>
<path d="M569,730.4 L579.8,717.6 L586.5,720.3 Q589.5,724 588.5,727.7 L583.8,737 L569,743" fill="#fff" stroke="#000" stroke-width="1.2" stroke-dasharray="5 2.5"/>
<path d="M569,731 L569,748" fill="none" stroke="#000" stroke-width="1.5" />
<path d="M575.8,731 L583,736.5 M569,743 L583,737" fill="none" stroke="#000" stroke-width="1.4" />
<ellipse cx="561.6" cy="743.8" rx="1.8" ry="2" fill="#000" stroke="#000" stroke-width="1.2" />
<ellipse cx="575.8" cy="731" rx="1.5" ry="1.6" fill="#000" stroke="#000" stroke-width="1.2" />
<ellipse cx="581" cy="737.8" rx="1.3" ry="1.3" fill="#000" stroke="#000" stroke-width="1.2" />
<path d="M597.3,717 L596,703 Q597,696 604,695.4 Q611,696 611.4,703 L610,712.9 L613.4,741 L610.8,752 L596,757.3 L602,756 Z" fill="#fff" stroke="#000" stroke-width="1.3" />
<path d="M597.3,717 L610,712.9" fill="none" stroke="#000" stroke-width="1.3" />
<path d="M597.8,717 L602.5,756 L596.5,757.5" fill="none" stroke="#000" stroke-width="2.4" />
<path d="M603,707 Q603.5,700.5 607,701 Q609,702 608.5,708" fill="none" stroke="#000" stroke-width="1.2" />
<ellipse cx="604.7" cy="718.5" rx="1.6" ry="1.7" fill="#000" stroke="#000" stroke-width="1.2" />
<ellipse cx="606.7" cy="749.2" rx="2.6" ry="3" fill="none" stroke="#000" stroke-width="1.4" />
<path d="M614.8,757.5 L617,754.5 L623,757.5 L621,761.5Z" fill="#000" stroke="#000" stroke-width="1.2" />
<path d="M622,757.5 L632,762 M620.5,761.5 L629,769" fill="none" stroke="#000" stroke-width="1.1" stroke-dasharray="4 2"/>
<ellipse cx="634.6" cy="766" rx="4.6" ry="6.2" fill="none" stroke="#000" stroke-width="1.2" transform="rotate(-25 634.6 766)" stroke-dasharray="8 3"/>
<path d="M561.6,743.8 L645.7,788.3" fill="none" stroke="#000" stroke-width="0.9" stroke-dasharray="14 3 3 3"/>
<path d="M583,737.5 L600,748.5" fill="none" stroke="#000" stroke-width="0.9" stroke-dasharray="3 2.5"/>
<ellipse cx="647.5" cy="794" rx="5" ry="5.4" fill="#fff" stroke="#000" stroke-width="1.4" />
<ellipse cx="648" cy="794" rx="2.2" ry="2.6" fill="none" stroke="#000" stroke-width="1.2" /></g>
<use href="#bset" transform="translate(-166 201)"/>
<ellipse cx="684.4" cy="813.7" rx="33.4" ry="58.8" fill="#fff" stroke="#000" stroke-width="1.3" transform="rotate(31 684.4 813.7)" />
<line x1="672.1" y1="876.5" x2="653.1" y2="863.5" stroke="#000" stroke-width="1.3" />
<line x1="734.7" y1="776.9" x2="715.7" y2="763.9" stroke="#000" stroke-width="1.3" />
<ellipse cx="703.4" cy="826.7" rx="33.4" ry="58.8" fill="#fff" stroke="#000" stroke-width="1.4" transform="rotate(31 703.4 826.7)" />
<ellipse cx="703.7" cy="827.3" rx="29.5" ry="53.5" fill="none" stroke="#000" stroke-width="1.2" transform="rotate(31 703.7 827.3)" />
<ellipse cx="703.2" cy="827.8" rx="27" ry="50.5" fill="none" stroke="#000" stroke-width="1.1" transform="rotate(31 703.2 827.8)" />
<path d="M672.4,837 L673.2,834.2 L674.1,831.4 L675.1,828.5 L676.3,825.7 L677.6,822.8 L678.9,820 L680.5,817.2 L682.1,814.5 L683.8,811.8 L685.5,809.2 L687.4,806.6 L689.3,804.2 L691.3,801.9 L693.4,799.7 L695.5,797.6 L697.6,795.6 L699.8,793.8 L701.9,792.2 L704.1,790.7 L706.3,789.3 L708.4,788.2 L710.6,787.2 L712.7,786.4 L714.7,785.8 L716.7,785.4 L718.7,785.1 L720.6,785.1 L722.4,785.3 L724.1,785.6 L725.7,786.1" fill="none" stroke="#000" stroke-width="3.1" />
<path d="M725.7,786.1 L727.6,787.1 L729.4,788.3 L730.9,789.8 L732.3,791.6 L733.4,793.7 L734.3,796 L735,798.6 L735.5,801.4 L735.7,804.3 L735.7,807.5 L735.4,810.7 L734.9,814.1 L734.2,817.6 L733.3,821.2 L732.1,824.9 L730.7,828.5 L729.1,832.2 L727.4,835.8 L725.4,839.3 L723.3,842.8 L721.1,846.1 L718.7,849.4 L716.2,852.4 L713.6,855.3 L710.9,858 L708.2,860.5 L705.4,862.7 L702.6,864.7 L699.9,866.4 L697.1,867.8 L694.4,868.9 L691.8,869.8 L689.2,870.3 L686.8,870.5 L684.4,870.4 L682.2,870 L680.2,869.3 L678.3,868.2 L676.6,866.9 L675.1,865.3 L673.8,863.4 L672.7,861.3 L671.9,858.9 L671.2,856.3 L670.8,853.5 L670.7,850.5 L670.8,847.3 L671.1,844 L671.6,840.5 L672.4,837" fill="none" stroke="#000" stroke-width="1.1" />
<path d="M738.7,825.4 L737.2,829.4 L735.5,833.4 L733.5,837.3 L731.4,841.2 L729.1,845 L726.7,848.7 L724.1,852.3 L721.3,855.6 L718.5,858.9 L715.6,861.9 L712.6,864.7 L709.5,867.2 L706.4,869.5 L703.3,871.6 L700.2,873.4 L697.1,874.9 L694,876 L691,876.9 L688.1,877.5 L685.3,877.8" fill="none" stroke="#000" stroke-width="2.6" stroke-dasharray="2 1.5"/>
<path d="M742.1,792.9 L742.6,795.6 L743,798.5 L743.1,801.6 L743,804.7 L742.8,808 L742.3,811.4 L741.7,814.8 L740.9,818.3 L739.9,821.8 L738.7,825.4" fill="none" stroke="#000" stroke-width="1.1" />
<ellipse cx="697.6" cy="820.6" rx="17" ry="35.5" fill="none" stroke="#000" stroke-width="1.3" transform="rotate(31 697.6 820.6)" />
<path d="M724.9,797.5 L725.3,800.5 L725.3,803.8 L725,807.3 L724.3,811 L723.4,814.8 L722.1,818.7 L720.6,822.7 L718.8,826.6 L716.7,830.5 L714.4,834.3 L711.9,837.9 L709.3,841.4 L706.5,844.6 L703.7,847.5 L700.7,850.1 L697.8,852.4 L694.8,854.3 L691.9,855.8 L689.1,856.9 L686.4,857.6 L683.8,857.8 L681.4,857.6 L679.3,857 L677.3,855.9 L675.6,854.4 L674.2,852.6 L673.1,850.3 L672.3,847.7 L671.9,844.8 L671.7,841.6" fill="none" stroke="#000" stroke-width="1.2" />
<path d="M730.7,803.2 L730.6,806.3 L730.3,809.5 L729.8,812.8 L729,816.2 L728.1,819.7 L726.9,823.2 L725.5,826.7 L723.9,830.2 L722.1,833.7 L720.1,837.1 L718,840.4 L715.8,843.6 L713.5,846.7 L711,849.6 L708.5,852.3 L705.9,854.8 L703.2,857 L700.5,859.1 L697.9,860.8 L695.2,862.3 L692.6,863.5 L690,864.5 L687.5,865.1 L685.1,865.4 L682.8,865.4 L680.7,865.1 L678.7,864.5 L676.8,863.6 L675.2,862.4 L673.7,860.9" fill="none" stroke="#000" stroke-width="0.9" stroke-dasharray="9 4"/>
<ellipse cx="704.7" cy="826.7" rx="6.4" ry="9.4" fill="#fff" stroke="#000" stroke-width="1.4" transform="rotate(15 704.7 826.7)" />
<ellipse cx="705" cy="826.7" rx="3.6" ry="5.6" fill="none" stroke="#000" stroke-width="1.9" transform="rotate(15 705 826.7)" />
<path d="M711,831 L729.6,840.8" fill="none" stroke="#000" stroke-width="1.8" />
<ellipse cx="729.6" cy="841" rx="2.2" ry="2.2" fill="#000" stroke="#000" stroke-width="1.2" />
<ellipse cx="712" cy="831.5" rx="1.8" ry="1.8" fill="#000" stroke="#000" stroke-width="1.2" />
<path d="M734,843 L763,858.5" fill="none" stroke="#000" stroke-width="0.9" stroke-dasharray="10 3 3 3"/>
<path d="M768.3,861.3 L785.6,869 L782.7,876.7 L766.3,866.2Z" fill="#fff" stroke="none" stroke-width="0" />
<path d="M768.3,861.3 L785.6,869 M766.3,866.2 L782.7,876.7" fill="none" stroke="#000" stroke-width="1.3" stroke-dasharray="3 1.6"/>
<path d="M762,860.5 L765,858.5 L768,860.5 L767.8,865.7 L764.5,865 Z" fill="#000" stroke="#000" stroke-width="1.4" />
<ellipse cx="788" cy="875.8" rx="4.8" ry="6.4" fill="#fff" stroke="#000" stroke-width="2.6" transform="rotate(-25 788 875.8)" />
<path d="M786.5,872 L790,871.5 L791,877 L788,880.5 L785.5,878Z" fill="#000" stroke="#000" stroke-width="1.2" />
<ellipse cx="512.6" cy="1010.8" rx="25.6" ry="46.1" fill="#fff" stroke="#000" stroke-width="1.3" transform="rotate(30.6 512.6 1010.8)" />
<line x1="504.1" y1="1059.5" x2="489.1" y2="1050.5" stroke="#000" stroke-width="1.3" />
<line x1="551.1" y1="980.1" x2="536.1" y2="971.1" stroke="#000" stroke-width="1.3" />
<ellipse cx="527.6" cy="1019.8" rx="25.6" ry="46.1" fill="#fff" stroke="#000" stroke-width="1.4" transform="rotate(30.6 527.6 1019.8)" />
<ellipse cx="524.2" cy="1019.5" rx="14.6" ry="30.5" fill="none" stroke="#000" stroke-width="2.1" transform="rotate(30.6 524.2 1019.5)" />
<ellipse cx="524.6" cy="1020" rx="12" ry="26.5" fill="none" stroke="#000" stroke-width="1.1" transform="rotate(30.6 524.6 1020)" />
<path d="M501.4,1027.1 L502,1024.9 L502.7,1022.7 L503.5,1020.5 L504.4,1018.3 L505.4,1016.2 L506.4,1014 L507.6,1011.8 L508.8,1009.7 L510.1,1007.6 L511.4,1005.6 L512.8,1003.7 L514.3,1001.8 L515.8,1000 L517.4,998.3 L519,996.6 L520.6,995.1 L522.2,993.7 L523.8,992.4 L525.5,991.2 L527.1,990.2 L528.7,989.3 L530.3,988.5 L531.9,987.8 L533.4,987.3 L534.9,987 L536.4,986.8 L537.8,986.7 L539.1,986.8 L540.4,987 L541.6,987.4" fill="none" stroke="#000" stroke-width="2.8" />
<path d="M541.6,987.4 L543.1,988.1 L544.5,989.1 L545.7,990.3 L546.7,991.8 L547.5,993.5 L548.2,995.4 L548.6,997.5 L548.9,999.8 L549,1002.2 L548.8,1004.8 L548.5,1007.5 L548,1010.3 L547.3,1013.2 L546.4,1016.1 L545.3,1019 L544,1022 L542.6,1024.9 L541.1,1027.8 L539.4,1030.6 L537.6,1033.4 L535.6,1036 L533.6,1038.5 L531.6,1040.8 L529.4,1043 L527.2,1044.9 L525,1046.7 L522.8,1048.2 L520.6,1049.5 L518.5,1050.6 L516.4,1051.4" fill="none" stroke="#000" stroke-width="1.1" stroke-dasharray="8 4"/>
<path d="M555.3,1014.8 L554.4,1017.7 L553.3,1020.6 L552.1,1023.5 L550.7,1026.4 L549.2,1029.3 L547.6,1032.1 L545.9,1034.8 L544.1,1037.5 L542.2,1040 L540.2,1042.5 L538.2,1044.8 L536.1,1047 L533.9,1049 L531.7,1050.9 L529.5,1052.6 L527.3,1054.1 L525.1,1055.4 L522.9,1056.5 L520.7,1057.5 L518.5,1058.2" fill="none" stroke="#000" stroke-width="2.6" stroke-dasharray="2 1.5"/>
<ellipse cx="530.3" cy="1020.8" rx="6" ry="9" fill="#fff" stroke="#000" stroke-width="1.4" transform="rotate(15 530.3 1020.8)" />
<ellipse cx="530.5" cy="1020.8" rx="3.4" ry="5.4" fill="none" stroke="#000" stroke-width="2.4" transform="rotate(15 530.5 1020.8)" />
<path d="M536.5,1025 L546.2,1030.3" fill="none" stroke="#000" stroke-width="1.8" />
<path d="M551,1033 L565,1040" fill="none" stroke="#000" stroke-width="0.9" stroke-dasharray="6 3 2 3"/>
<ellipse cx="573.3" cy="1044.5" rx="5.4" ry="6.6" fill="#fff" stroke="#000" stroke-width="1.7" transform="rotate(20 573.3 1044.5)" />
<ellipse cx="573.6" cy="1044.5" rx="2.4" ry="3.2" fill="none" stroke="#000" stroke-width="1.2" transform="rotate(20 573.6 1044.5)" />
<path d="M587.3,1049.2 L602.7,1056.9 L598,1063 L585,1055.4Z" fill="#fff" stroke="#000" stroke-width="1.3" />
<path d="M580.4,1048.5 L587.5,1049 L591,1052 L586,1056 Z" fill="#000" stroke="#000" stroke-width="1.2" />
<path d="M602.7,1057 L608.8,1057.3 L612,1062.3 L610.4,1068.5 L604.2,1070 L600.4,1064Z" fill="#fff" stroke="#000" stroke-width="1.5" />
<path d="M606,1059 L609.5,1061 L609,1066.5 L605.5,1067.5Z" fill="#000" stroke="#000" stroke-width="1.2" />
<path d="M602.7,1057 Q600,1062 604.2,1070" fill="none" stroke="#000" stroke-width="1.2" /></g>
<g style="mix-blend-mode:multiply"><text y="677.6" x="260 331.2 390.9 442.7 482.8 523.3 598.4 641.2 700.1" font-family="'Liberation Serif',serif" font-weight="bold" font-size="125" fill="#d1d1d1" stroke="#d1d1d1" stroke-width="1.5" stroke-linejoin="round">PartsTree</text>
<text x="751.8" y="611.5" font-family="'Liberation Sans',sans-serif" font-size="16" fill="#cdcdcd" textLength="22.5" lengthAdjust="spacingAndGlyphs">TM</text></g>
<g stroke="#000" stroke-width="2" stroke-linecap="butt"><line x1="158" y1="176" x2="203" y2="189"/>
<line x1="78" y1="213" x2="120" y2="246"/>
<line x1="416" y1="222" x2="400" y2="190"/>
<line x1="354" y1="354" x2="305" y2="367"/>
<line x1="425" y1="387.5" x2="460" y2="392.5"/>
<line x1="405" y1="409" x2="365" y2="405"/>
<line x1="426" y1="434" x2="457.5" y2="416"/>
<line x1="457" y1="457.5" x2="499" y2="436"/>
<line x1="530" y1="482.5" x2="510" y2="456"/>
<line x1="606" y1="340" x2="569" y2="354"/>
<line x1="555" y1="452.5" x2="545" y2="437.5"/>
<line x1="577.5" y1="425" x2="547.5" y2="392.5"/>
<line x1="607.5" y1="316" x2="565" y2="326"/>
<line x1="501" y1="267.5" x2="529" y2="271"/>
<line x1="571" y1="235" x2="541" y2="247.5"/>
<line x1="582.5" y1="266" x2="574" y2="280"/>
<line x1="627.5" y1="162.5" x2="582.5" y2="171"/>
<line x1="599" y1="42.5" x2="550" y2="45.5"/>
<line x1="599" y1="69" x2="542.5" y2="74"/>
<line x1="599" y1="94" x2="545" y2="91"/>
<line x1="657.5" y1="242.5" x2="637.5" y2="260"/>
<line x1="970" y1="209" x2="935" y2="175"/>
<line x1="970" y1="209" x2="897.5" y2="216"/>
<line x1="784" y1="256" x2="811" y2="261"/>
<line x1="969" y1="299.5" x2="925" y2="304"/>
<line x1="874" y1="367" x2="826" y2="336"/>
<line x1="874" y1="367" x2="814" y2="364"/>
<line x1="639" y1="437.5" x2="631" y2="414"/>
<line x1="696" y1="443" x2="722.5" y2="444"/>
<line x1="699" y1="484.5" x2="726" y2="484.5"/>
<line x1="836" y1="472" x2="796" y2="475"/>
<line x1="690" y1="582.5" x2="674" y2="624.5"/>
<line x1="842.4" y1="617.6" x2="815.3" y2="654.5"/>
<line x1="955.8" y1="708" x2="910" y2="731"/>
<line x1="957.5" y1="743.5" x2="921.5" y2="767"/>
<line x1="879.7" y1="794" x2="885" y2="758"/>
<line x1="826.7" y1="777.8" x2="859.4" y2="761.4"/>
<line x1="721.5" y1="710.8" x2="747.6" y2="680.7"/>
<line x1="772.5" y1="917.5" x2="778" y2="879"/>
<line x1="632.5" y1="909" x2="652.5" y2="869"/>
<line x1="606" y1="840" x2="641" y2="802.5"/>
<line x1="522.5" y1="942.5" x2="486" y2="990"/>
<line x1="670" y1="715" x2="639" y2="760"/>
<line x1="491" y1="916" x2="464" y2="957.5"/>
<line x1="635" y1="692.5" x2="614" y2="705.5"/>
<line x1="465" y1="878.5" x2="444" y2="896"/>
<line x1="600" y1="672.5" x2="585.5" y2="716"/>
<line x1="414" y1="882.5" x2="414.5" y2="919"/>
<line x1="570" y1="664" x2="555" y2="706"/>
<line x1="379" y1="872" x2="320" y2="875"/>
<line x1="531" y1="776" x2="502.5" y2="752.5"/>
<line x1="186" y1="914.5" x2="206" y2="885.5"/>
<line x1="502.5" y1="797.5" x2="481" y2="772.5"/>
<line x1="502.5" y1="822.5" x2="480" y2="795"/>
<line x1="464" y1="844" x2="435" y2="840"/>
<line x1="603" y1="986" x2="579" y2="1036"/>
<line x1="640.6" y1="1009.6" x2="602.5" y2="1052.5"/>
<line x1="494" y1="1086" x2="494" y2="1055"/>
<line x1="238" y1="1200" x2="290" y2="1200"/>
<line x1="161" y1="1139" x2="191" y2="1114"/>
<line x1="377.5" y1="1146" x2="316" y2="1132.5"/>
<line x1="194" y1="1054" x2="236" y2="1064"/>
<line x1="375" y1="1041" x2="327.5" y2="1042"/>
<line x1="193" y1="1011" x2="266" y2="1017.5"/>
<line x1="194" y1="983" x2="264" y2="1000"/>
<line x1="195" y1="951" x2="241" y2="951"/>
<line x1="148" y1="904" x2="148" y2="876"/>
<line x1="77.5" y1="884" x2="109" y2="886"/>
<line x1="77.5" y1="831" x2="111" y2="803"/>
<line x1="275" y1="780" x2="224" y2="767.5"/>
<line x1="506" y1="585" x2="454" y2="604.5"/>
<line x1="316" y1="708" x2="327.5" y2="721"/>
<line x1="91" y1="628" x2="129" y2="639"/>
<line x1="80.5" y1="506" x2="126" y2="518"/>
<line x1="256" y1="544" x2="229" y2="545.5"/>
<line x1="191" y1="447.5" x2="246" y2="480"/>
<line x1="192" y1="412" x2="231" y2="419.5"/></g>
<g font-family="'Liberation Sans',sans-serif" font-weight="bold" fill="#000" stroke="#000" stroke-width="0.35"><text x="137.7" y="184" font-size="19.6" textLength="17.6" lengthAdjust="spacingAndGlyphs">65</text>
<text x="58.7" y="211" font-size="19.6" textLength="16.6" lengthAdjust="spacingAndGlyphs">66</text>
<text x="411.7" y="241" font-size="20.9" textLength="17.6" lengthAdjust="spacingAndGlyphs">68</text>
<text x="354.7" y="357.5" font-size="18.9" textLength="16.6" lengthAdjust="spacingAndGlyphs">49</text>
<text x="406.7" y="393.5" font-size="20.3" textLength="16.6" lengthAdjust="spacingAndGlyphs">52</text>
<text x="406.7" y="416.5" font-size="20.3" textLength="16.6" lengthAdjust="spacingAndGlyphs">50</text>
<text x="406.7" y="445" font-size="20.9" textLength="17.6" lengthAdjust="spacingAndGlyphs">53</text>
<text x="435.7" y="466.5" font-size="20.3" textLength="16.6" lengthAdjust="spacingAndGlyphs">54</text>
<text x="521.7" y="502" font-size="20.3" textLength="17.6" lengthAdjust="spacingAndGlyphs">55</text>
<text x="608.7" y="345" font-size="20.9" textLength="16.6" lengthAdjust="spacingAndGlyphs">55</text>
<text x="546.7" y="469" font-size="20.3" textLength="16.6" lengthAdjust="spacingAndGlyphs">56</text>
<text x="580.7" y="442" font-size="20.3" textLength="15.6" lengthAdjust="spacingAndGlyphs">57</text>
<text x="608.7" y="323" font-size="19.6" textLength="15.6" lengthAdjust="spacingAndGlyphs">58</text>
<text x="483.7" y="274.5" font-size="20.3" textLength="16.6" lengthAdjust="spacingAndGlyphs">59</text>
<text x="573.7" y="241.5" font-size="20.3" textLength="16.6" lengthAdjust="spacingAndGlyphs">60</text>
<text x="573.7" y="264.5" font-size="20.3" textLength="16.6" lengthAdjust="spacingAndGlyphs">67</text>
<text x="629.7" y="170" font-size="20.9" textLength="14.6" lengthAdjust="spacingAndGlyphs">61</text>
<text x="599.7" y="50" font-size="20.9" textLength="16.6" lengthAdjust="spacingAndGlyphs">62</text>
<text x="599.7" y="76" font-size="20.9" textLength="16.6" lengthAdjust="spacingAndGlyphs">63</text>
<text x="600.7" y="101" font-size="20.9" textLength="16.6" lengthAdjust="spacingAndGlyphs">64</text>
<text x="658.7" y="240.5" font-size="20.3" textLength="15.6" lengthAdjust="spacingAndGlyphs">51</text>
<text x="970.7" y="216" font-size="20.9" textLength="7.1" lengthAdjust="spacingAndGlyphs">1</text>
<text x="773.7" y="264" font-size="20.9" textLength="8.1" lengthAdjust="spacingAndGlyphs">2</text>
<text x="970.7" y="306" font-size="20.9" textLength="8.6" lengthAdjust="spacingAndGlyphs">3</text>
<text x="875.7" y="376.5" font-size="20.3" textLength="8.6" lengthAdjust="spacingAndGlyphs">4</text>
<text x="635.2" y="456.5" font-size="20.3" textLength="8.1" lengthAdjust="spacingAndGlyphs">5</text>
<text x="686.7" y="449.5" font-size="20.3" textLength="8.1" lengthAdjust="spacingAndGlyphs">6</text>
<text x="687.2" y="492.5" font-size="20.3" textLength="7.6" lengthAdjust="spacingAndGlyphs">7</text>
<text x="839.7" y="479" font-size="20.3" textLength="8.1" lengthAdjust="spacingAndGlyphs">8</text>
<text x="686.2" y="581" font-size="20.9" textLength="8.1" lengthAdjust="spacingAndGlyphs">9</text>
<text x="842.7" y="613" font-size="20.3" textLength="16.1" lengthAdjust="spacingAndGlyphs">10</text>
<text x="957.7" y="713" font-size="20.3" textLength="15.6" lengthAdjust="spacingAndGlyphs">11</text>
<text x="957.7" y="748.5" font-size="20.3" textLength="16.6" lengthAdjust="spacingAndGlyphs">12</text>
<text x="872.2" y="813.5" font-size="20.9" textLength="16.1" lengthAdjust="spacingAndGlyphs">13</text>
<text x="807.7" y="787" font-size="20.9" textLength="15.6" lengthAdjust="spacingAndGlyphs">14</text>
<text x="704.7" y="728.5" font-size="20.3" textLength="16.1" lengthAdjust="spacingAndGlyphs">15</text>
<text x="764.7" y="936" font-size="20.9" textLength="15.1" lengthAdjust="spacingAndGlyphs">16</text>
<text x="624.7" y="929" font-size="20.9" textLength="15.1" lengthAdjust="spacingAndGlyphs">17</text>
<text x="591.7" y="857" font-size="20.3" textLength="15.6" lengthAdjust="spacingAndGlyphs">18</text>
<text x="521.7" y="939.5" font-size="20.3" textLength="15.6" lengthAdjust="spacingAndGlyphs">18</text>
<text x="669.7" y="714" font-size="20.3" textLength="15.6" lengthAdjust="spacingAndGlyphs">19</text>
<text x="490.7" y="913.5" font-size="20.3" textLength="15.6" lengthAdjust="spacingAndGlyphs">19</text>
<text x="635.7" y="692" font-size="20.3" textLength="16.6" lengthAdjust="spacingAndGlyphs">20</text>
<text x="464.7" y="878" font-size="20.9" textLength="16.6" lengthAdjust="spacingAndGlyphs">20</text>
<text x="592.2" y="670" font-size="20.3" textLength="15.1" lengthAdjust="spacingAndGlyphs">21</text>
<text x="407.2" y="879" font-size="20.9" textLength="15.1" lengthAdjust="spacingAndGlyphs">21</text>
<text x="564.2" y="660" font-size="20.3" textLength="16.1" lengthAdjust="spacingAndGlyphs">22</text>
<text x="379.7" y="879" font-size="20.9" textLength="16.1" lengthAdjust="spacingAndGlyphs">22</text>
<text x="532.2" y="793.5" font-size="20.3" textLength="16.1" lengthAdjust="spacingAndGlyphs">23</text>
<text x="176.7" y="933.5" font-size="20.3" textLength="15.6" lengthAdjust="spacingAndGlyphs">23</text>
<text x="504.2" y="814" font-size="20.3" textLength="16.1" lengthAdjust="spacingAndGlyphs">24</text>
<text x="504.2" y="839.5" font-size="20.3" textLength="16.1" lengthAdjust="spacingAndGlyphs">25</text>
<text x="465.7" y="851" font-size="20.3" textLength="16.6" lengthAdjust="spacingAndGlyphs">26</text>
<text x="595.7" y="981.5" font-size="20.3" textLength="16.6" lengthAdjust="spacingAndGlyphs">27</text>
<text x="643.7" y="1006.5" font-size="20.9" textLength="16.1" lengthAdjust="spacingAndGlyphs">28</text>
<text x="484.7" y="1104" font-size="20.3" textLength="16.6" lengthAdjust="spacingAndGlyphs">29</text>
<text x="219.7" y="1207.5" font-size="20.9" textLength="16.1" lengthAdjust="spacingAndGlyphs">30</text>
<text x="144.7" y="1155" font-size="20.9" textLength="14.6" lengthAdjust="spacingAndGlyphs">31</text>
<text x="380.7" y="1156" font-size="20.3" textLength="16.1" lengthAdjust="spacingAndGlyphs">32</text>
<text x="175.2" y="1061.5" font-size="20.3" textLength="16.1" lengthAdjust="spacingAndGlyphs">33</text>
<text x="377.7" y="1047" font-size="20.3" textLength="16.6" lengthAdjust="spacingAndGlyphs">34</text>
<text x="175.2" y="1019" font-size="20.9" textLength="16.1" lengthAdjust="spacingAndGlyphs">35</text>
<text x="175.2" y="989.5" font-size="20.3" textLength="16.1" lengthAdjust="spacingAndGlyphs">36</text>
<text x="176.7" y="959.5" font-size="20.3" textLength="16.1" lengthAdjust="spacingAndGlyphs">37</text>
<text x="140.2" y="920.5" font-size="20.3" textLength="16.1" lengthAdjust="spacingAndGlyphs">38</text>
<text x="58.7" y="891.5" font-size="20.3" textLength="15.6" lengthAdjust="spacingAndGlyphs">39</text>
<text x="57.7" y="846.5" font-size="20.3" textLength="16.6" lengthAdjust="spacingAndGlyphs">40</text>
<text x="278.7" y="789.5" font-size="20.3" textLength="15.6" lengthAdjust="spacingAndGlyphs">41</text>
<text x="509.2" y="584.5" font-size="20.3" textLength="16.1" lengthAdjust="spacingAndGlyphs">42</text>
<text x="300.7" y="705.5" font-size="20.3" textLength="16.6" lengthAdjust="spacingAndGlyphs">43</text>
<text x="72.2" y="635" font-size="20.3" textLength="16.1" lengthAdjust="spacingAndGlyphs">44</text>
<text x="62.2" y="514" font-size="20.9" textLength="16.1" lengthAdjust="spacingAndGlyphs">45</text>
<text x="257.7" y="548.5" font-size="20.3" textLength="16.6" lengthAdjust="spacingAndGlyphs">46</text>
<text x="174.7" y="446.5" font-size="20.3" textLength="16.6" lengthAdjust="spacingAndGlyphs">47</text>
<text x="173.7" y="419.5" font-size="20.3" textLength="16.6" lengthAdjust="spacingAndGlyphs">48</text></g>
</svg></body></html>
